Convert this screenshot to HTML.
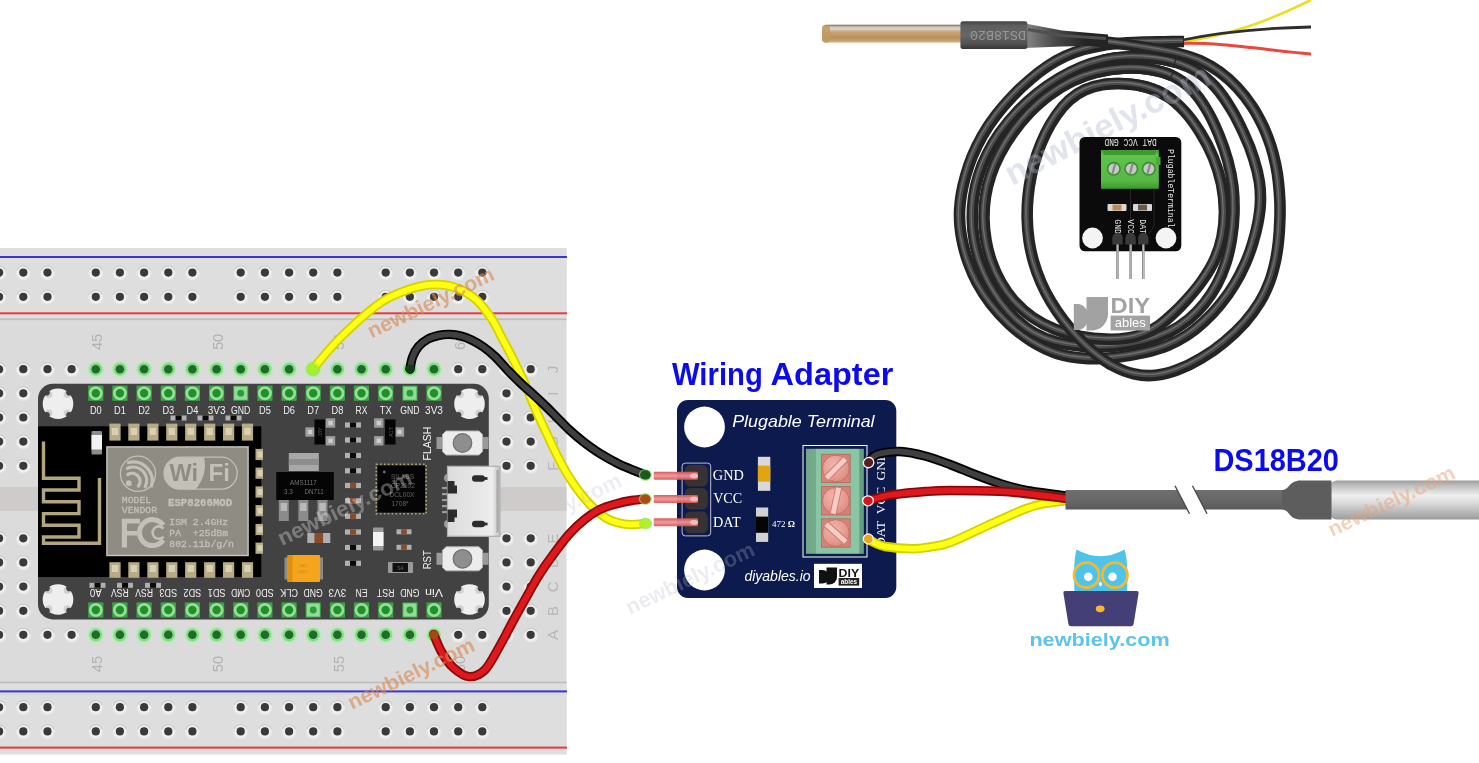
<!DOCTYPE html>
<html lang="en"><head><meta charset="utf-8"><title>ESP8266 NodeMCU DS18B20 wiring diagram</title>
<style>
html,body{margin:0;padding:0;background:#fff;}
body{width:1479px;height:763px;overflow:hidden;font-family:"Liberation Sans",sans-serif;}
svg{display:block;font-family:"Liberation Sans",sans-serif;will-change:transform;}
.serif{font-family:"Liberation Serif",serif;}
.mono{font-family:"Liberation Mono","DejaVu Sans Mono",monospace;}
</style></head><body>
<svg width="1479" height="763" viewBox="0 0 1479 763">
<defs>
<radialGradient id="hg" cx="50%" cy="50%" r="50%"><stop offset="0" stop-color="#f6f6f6"/><stop offset=".72" stop-color="#efefef"/><stop offset=".9" stop-color="#e6e6e6" stop-opacity=".8"/><stop offset="1" stop-color="#dcdcdc" stop-opacity="0"/></radialGradient>
<linearGradient id="usb" x1="0" y1="0" x2="1" y2="0"><stop offset="0" stop-color="#dcdcdc"/><stop offset=".85" stop-color="#ededed"/><stop offset="1" stop-color="#bdbdbd"/></linearGradient>
<linearGradient id="rod" x1="0" y1="0" x2="0" y2="1"><stop offset="0" stop-color="#6b5a45"/><stop offset=".09" stop-color="#c2b6a2"/><stop offset=".22" stop-color="#dcd7ce"/><stop offset=".4" stop-color="#c9a573"/><stop offset=".72" stop-color="#b98f5c"/><stop offset=".9" stop-color="#c8a473"/><stop offset="1" stop-color="#dcc6a6"/></linearGradient>
<linearGradient id="shr" x1="0" y1="0" x2="0" y2="1"><stop offset="0" stop-color="#424242"/><stop offset=".16" stop-color="#5e5e5e"/><stop offset=".5" stop-color="#676767"/><stop offset=".82" stop-color="#505050"/><stop offset="1" stop-color="#363636"/></linearGradient>
<linearGradient id="gtb" x1="0" y1="0" x2="0" y2="1"><stop offset="0" stop-color="#3f9a30"/><stop offset=".12" stop-color="#5fc24a"/><stop offset=".8" stop-color="#57b944"/><stop offset="1" stop-color="#3d952e"/></linearGradient>
<linearGradient id="tap" gradientUnits="userSpaceOnUse" x1="1027" y1="0" x2="1085" y2="0"><stop offset="0" stop-color="#848484"/><stop offset=".45" stop-color="#4c4c4c"/><stop offset="1" stop-color="#242424"/></linearGradient>
<linearGradient id="pin" x1="0" y1="0" x2="0" y2="1"><stop offset="0" stop-color="#d55557"/><stop offset=".5" stop-color="#ee9897"/><stop offset="1" stop-color="#d55557"/></linearGradient>
<radialGradient id="pinend" cx="50%" cy="50%" r="50%"><stop offset="0" stop-color="#f7b4b4"/><stop offset=".6" stop-color="#e26668" stop-opacity=".9"/><stop offset="1" stop-color="#c23a3c" stop-opacity="0"/></radialGradient>
<linearGradient id="tb" x1="0" y1="0" x2="1" y2="0"><stop offset="0" stop-color="#6fa688"/><stop offset=".17" stop-color="#74ad8e"/><stop offset=".18" stop-color="#8ac5a4"/><stop offset=".92" stop-color="#8ac5a4"/><stop offset=".93" stop-color="#5f9a7c"/><stop offset="1" stop-color="#6aa588"/></linearGradient>
<radialGradient id="scr" cx="40%" cy="35%" r="75%"><stop offset="0" stop-color="#f2b4ab"/><stop offset=".6" stop-color="#e79b91"/><stop offset="1" stop-color="#db867b"/></radialGradient>

<linearGradient id="metal" x1="0" y1="0" x2="0" y2="1"><stop offset="0" stop-color="#9c9c9c"/><stop offset=".12" stop-color="#bdbdbd"/><stop offset=".38" stop-color="#efefef"/><stop offset=".55" stop-color="#dedede"/><stop offset=".85" stop-color="#b2b2b2"/><stop offset="1" stop-color="#9a9a9a"/></linearGradient>
<linearGradient id="cab" x1="0" y1="0" x2="0" y2="1"><stop offset="0" stop-color="#6e6e6e"/><stop offset=".6" stop-color="#666"/><stop offset="1" stop-color="#5a5a5a"/></linearGradient>

</defs>
<rect width="1479" height="763" fill="#ffffff"/>
<g id="breadboard">
<rect x="-5" y="248.3" width="571.5" height="506" fill="#dbdbdb"/>
<rect x="-5" y="248.3" width="571.5" height="71" fill="#dedede"/>
<rect x="-5" y="682.5" width="571.5" height="71.8" fill="#dedede"/>
<rect x="-5" y="487" width="571.5" height="24" fill="#cfcbca"/>
<rect x="-5" y="318.5" width="571.5" height="1.6" fill="#bcbcbc"/>
<rect x="-5" y="681.7" width="571.5" height="1.6" fill="#bcbcbc"/>
<rect x="-5" y="256" width="572" height="2" fill="#3636d6"/>
<rect x="-5" y="690.4" width="572" height="2" fill="#3636d6"/>
<rect x="-5" y="312.3" width="572" height="2" fill="#e63b3b"/>
<rect x="-5" y="746.6" width="572" height="2" fill="#e63b3b"/>
<circle cx="-0.9" cy="273.0" r="8" fill="url(#hg)"/><path d="M-7.2,270.4 A6.7,6.7 0 0 1 5.4,270.4" fill="none" stroke="#c6c6c6" stroke-width="1.1" opacity=".8"/><circle cx="-0.9" cy="272.6" r="4.1" fill="#3a3a3a"/>
<circle cx="-0.9" cy="297.2" r="8" fill="url(#hg)"/><path d="M-7.2,294.6 A6.7,6.7 0 0 1 5.4,294.6" fill="none" stroke="#c6c6c6" stroke-width="1.1" opacity=".8"/><circle cx="-0.9" cy="296.8" r="4.1" fill="#3a3a3a"/>
<circle cx="-0.9" cy="707.6" r="8" fill="url(#hg)"/><path d="M-7.2,705.0 A6.7,6.7 0 0 1 5.4,705.0" fill="none" stroke="#c6c6c6" stroke-width="1.1" opacity=".8"/><circle cx="-0.9" cy="707.2" r="4.1" fill="#3a3a3a"/>
<circle cx="-0.9" cy="731.8" r="8" fill="url(#hg)"/><path d="M-7.2,729.2 A6.7,6.7 0 0 1 5.4,729.2" fill="none" stroke="#c6c6c6" stroke-width="1.1" opacity=".8"/><circle cx="-0.9" cy="731.4" r="4.1" fill="#3a3a3a"/>
<circle cx="23.3" cy="273.0" r="8" fill="url(#hg)"/><path d="M17.0,270.4 A6.7,6.7 0 0 1 29.6,270.4" fill="none" stroke="#c6c6c6" stroke-width="1.1" opacity=".8"/><circle cx="23.3" cy="272.6" r="4.1" fill="#3a3a3a"/>
<circle cx="23.3" cy="297.2" r="8" fill="url(#hg)"/><path d="M17.0,294.6 A6.7,6.7 0 0 1 29.6,294.6" fill="none" stroke="#c6c6c6" stroke-width="1.1" opacity=".8"/><circle cx="23.3" cy="296.8" r="4.1" fill="#3a3a3a"/>
<circle cx="23.3" cy="707.6" r="8" fill="url(#hg)"/><path d="M17.0,705.0 A6.7,6.7 0 0 1 29.6,705.0" fill="none" stroke="#c6c6c6" stroke-width="1.1" opacity=".8"/><circle cx="23.3" cy="707.2" r="4.1" fill="#3a3a3a"/>
<circle cx="23.3" cy="731.8" r="8" fill="url(#hg)"/><path d="M17.0,729.2 A6.7,6.7 0 0 1 29.6,729.2" fill="none" stroke="#c6c6c6" stroke-width="1.1" opacity=".8"/><circle cx="23.3" cy="731.4" r="4.1" fill="#3a3a3a"/>
<circle cx="47.5" cy="273.0" r="8" fill="url(#hg)"/><path d="M41.2,270.4 A6.7,6.7 0 0 1 53.8,270.4" fill="none" stroke="#c6c6c6" stroke-width="1.1" opacity=".8"/><circle cx="47.5" cy="272.6" r="4.1" fill="#3a3a3a"/>
<circle cx="47.5" cy="297.2" r="8" fill="url(#hg)"/><path d="M41.2,294.6 A6.7,6.7 0 0 1 53.8,294.6" fill="none" stroke="#c6c6c6" stroke-width="1.1" opacity=".8"/><circle cx="47.5" cy="296.8" r="4.1" fill="#3a3a3a"/>
<circle cx="47.5" cy="707.6" r="8" fill="url(#hg)"/><path d="M41.2,705.0 A6.7,6.7 0 0 1 53.8,705.0" fill="none" stroke="#c6c6c6" stroke-width="1.1" opacity=".8"/><circle cx="47.5" cy="707.2" r="4.1" fill="#3a3a3a"/>
<circle cx="47.5" cy="731.8" r="8" fill="url(#hg)"/><path d="M41.2,729.2 A6.7,6.7 0 0 1 53.8,729.2" fill="none" stroke="#c6c6c6" stroke-width="1.1" opacity=".8"/><circle cx="47.5" cy="731.4" r="4.1" fill="#3a3a3a"/>
<circle cx="95.8" cy="273.0" r="8" fill="url(#hg)"/><path d="M89.5,270.4 A6.7,6.7 0 0 1 102.1,270.4" fill="none" stroke="#c6c6c6" stroke-width="1.1" opacity=".8"/><circle cx="95.8" cy="272.6" r="4.1" fill="#3a3a3a"/>
<circle cx="95.8" cy="297.2" r="8" fill="url(#hg)"/><path d="M89.5,294.6 A6.7,6.7 0 0 1 102.1,294.6" fill="none" stroke="#c6c6c6" stroke-width="1.1" opacity=".8"/><circle cx="95.8" cy="296.8" r="4.1" fill="#3a3a3a"/>
<circle cx="95.8" cy="707.6" r="8" fill="url(#hg)"/><path d="M89.5,705.0 A6.7,6.7 0 0 1 102.1,705.0" fill="none" stroke="#c6c6c6" stroke-width="1.1" opacity=".8"/><circle cx="95.8" cy="707.2" r="4.1" fill="#3a3a3a"/>
<circle cx="95.8" cy="731.8" r="8" fill="url(#hg)"/><path d="M89.5,729.2 A6.7,6.7 0 0 1 102.1,729.2" fill="none" stroke="#c6c6c6" stroke-width="1.1" opacity=".8"/><circle cx="95.8" cy="731.4" r="4.1" fill="#3a3a3a"/>
<circle cx="119.9" cy="273.0" r="8" fill="url(#hg)"/><path d="M113.6,270.4 A6.7,6.7 0 0 1 126.2,270.4" fill="none" stroke="#c6c6c6" stroke-width="1.1" opacity=".8"/><circle cx="119.9" cy="272.6" r="4.1" fill="#3a3a3a"/>
<circle cx="119.9" cy="297.2" r="8" fill="url(#hg)"/><path d="M113.6,294.6 A6.7,6.7 0 0 1 126.2,294.6" fill="none" stroke="#c6c6c6" stroke-width="1.1" opacity=".8"/><circle cx="119.9" cy="296.8" r="4.1" fill="#3a3a3a"/>
<circle cx="119.9" cy="707.6" r="8" fill="url(#hg)"/><path d="M113.6,705.0 A6.7,6.7 0 0 1 126.2,705.0" fill="none" stroke="#c6c6c6" stroke-width="1.1" opacity=".8"/><circle cx="119.9" cy="707.2" r="4.1" fill="#3a3a3a"/>
<circle cx="119.9" cy="731.8" r="8" fill="url(#hg)"/><path d="M113.6,729.2 A6.7,6.7 0 0 1 126.2,729.2" fill="none" stroke="#c6c6c6" stroke-width="1.1" opacity=".8"/><circle cx="119.9" cy="731.4" r="4.1" fill="#3a3a3a"/>
<circle cx="144.1" cy="273.0" r="8" fill="url(#hg)"/><path d="M137.8,270.4 A6.7,6.7 0 0 1 150.4,270.4" fill="none" stroke="#c6c6c6" stroke-width="1.1" opacity=".8"/><circle cx="144.1" cy="272.6" r="4.1" fill="#3a3a3a"/>
<circle cx="144.1" cy="297.2" r="8" fill="url(#hg)"/><path d="M137.8,294.6 A6.7,6.7 0 0 1 150.4,294.6" fill="none" stroke="#c6c6c6" stroke-width="1.1" opacity=".8"/><circle cx="144.1" cy="296.8" r="4.1" fill="#3a3a3a"/>
<circle cx="144.1" cy="707.6" r="8" fill="url(#hg)"/><path d="M137.8,705.0 A6.7,6.7 0 0 1 150.4,705.0" fill="none" stroke="#c6c6c6" stroke-width="1.1" opacity=".8"/><circle cx="144.1" cy="707.2" r="4.1" fill="#3a3a3a"/>
<circle cx="144.1" cy="731.8" r="8" fill="url(#hg)"/><path d="M137.8,729.2 A6.7,6.7 0 0 1 150.4,729.2" fill="none" stroke="#c6c6c6" stroke-width="1.1" opacity=".8"/><circle cx="144.1" cy="731.4" r="4.1" fill="#3a3a3a"/>
<circle cx="168.3" cy="273.0" r="8" fill="url(#hg)"/><path d="M162.0,270.4 A6.7,6.7 0 0 1 174.6,270.4" fill="none" stroke="#c6c6c6" stroke-width="1.1" opacity=".8"/><circle cx="168.3" cy="272.6" r="4.1" fill="#3a3a3a"/>
<circle cx="168.3" cy="297.2" r="8" fill="url(#hg)"/><path d="M162.0,294.6 A6.7,6.7 0 0 1 174.6,294.6" fill="none" stroke="#c6c6c6" stroke-width="1.1" opacity=".8"/><circle cx="168.3" cy="296.8" r="4.1" fill="#3a3a3a"/>
<circle cx="168.3" cy="707.6" r="8" fill="url(#hg)"/><path d="M162.0,705.0 A6.7,6.7 0 0 1 174.6,705.0" fill="none" stroke="#c6c6c6" stroke-width="1.1" opacity=".8"/><circle cx="168.3" cy="707.2" r="4.1" fill="#3a3a3a"/>
<circle cx="168.3" cy="731.8" r="8" fill="url(#hg)"/><path d="M162.0,729.2 A6.7,6.7 0 0 1 174.6,729.2" fill="none" stroke="#c6c6c6" stroke-width="1.1" opacity=".8"/><circle cx="168.3" cy="731.4" r="4.1" fill="#3a3a3a"/>
<circle cx="192.4" cy="273.0" r="8" fill="url(#hg)"/><path d="M186.1,270.4 A6.7,6.7 0 0 1 198.7,270.4" fill="none" stroke="#c6c6c6" stroke-width="1.1" opacity=".8"/><circle cx="192.4" cy="272.6" r="4.1" fill="#3a3a3a"/>
<circle cx="192.4" cy="297.2" r="8" fill="url(#hg)"/><path d="M186.1,294.6 A6.7,6.7 0 0 1 198.7,294.6" fill="none" stroke="#c6c6c6" stroke-width="1.1" opacity=".8"/><circle cx="192.4" cy="296.8" r="4.1" fill="#3a3a3a"/>
<circle cx="192.4" cy="707.6" r="8" fill="url(#hg)"/><path d="M186.1,705.0 A6.7,6.7 0 0 1 198.7,705.0" fill="none" stroke="#c6c6c6" stroke-width="1.1" opacity=".8"/><circle cx="192.4" cy="707.2" r="4.1" fill="#3a3a3a"/>
<circle cx="192.4" cy="731.8" r="8" fill="url(#hg)"/><path d="M186.1,729.2 A6.7,6.7 0 0 1 198.7,729.2" fill="none" stroke="#c6c6c6" stroke-width="1.1" opacity=".8"/><circle cx="192.4" cy="731.4" r="4.1" fill="#3a3a3a"/>
<circle cx="240.7" cy="273.0" r="8" fill="url(#hg)"/><path d="M234.4,270.4 A6.7,6.7 0 0 1 247.0,270.4" fill="none" stroke="#c6c6c6" stroke-width="1.1" opacity=".8"/><circle cx="240.7" cy="272.6" r="4.1" fill="#3a3a3a"/>
<circle cx="240.7" cy="297.2" r="8" fill="url(#hg)"/><path d="M234.4,294.6 A6.7,6.7 0 0 1 247.0,294.6" fill="none" stroke="#c6c6c6" stroke-width="1.1" opacity=".8"/><circle cx="240.7" cy="296.8" r="4.1" fill="#3a3a3a"/>
<circle cx="240.7" cy="707.6" r="8" fill="url(#hg)"/><path d="M234.4,705.0 A6.7,6.7 0 0 1 247.0,705.0" fill="none" stroke="#c6c6c6" stroke-width="1.1" opacity=".8"/><circle cx="240.7" cy="707.2" r="4.1" fill="#3a3a3a"/>
<circle cx="240.7" cy="731.8" r="8" fill="url(#hg)"/><path d="M234.4,729.2 A6.7,6.7 0 0 1 247.0,729.2" fill="none" stroke="#c6c6c6" stroke-width="1.1" opacity=".8"/><circle cx="240.7" cy="731.4" r="4.1" fill="#3a3a3a"/>
<circle cx="264.9" cy="273.0" r="8" fill="url(#hg)"/><path d="M258.6,270.4 A6.7,6.7 0 0 1 271.2,270.4" fill="none" stroke="#c6c6c6" stroke-width="1.1" opacity=".8"/><circle cx="264.9" cy="272.6" r="4.1" fill="#3a3a3a"/>
<circle cx="264.9" cy="297.2" r="8" fill="url(#hg)"/><path d="M258.6,294.6 A6.7,6.7 0 0 1 271.2,294.6" fill="none" stroke="#c6c6c6" stroke-width="1.1" opacity=".8"/><circle cx="264.9" cy="296.8" r="4.1" fill="#3a3a3a"/>
<circle cx="264.9" cy="707.6" r="8" fill="url(#hg)"/><path d="M258.6,705.0 A6.7,6.7 0 0 1 271.2,705.0" fill="none" stroke="#c6c6c6" stroke-width="1.1" opacity=".8"/><circle cx="264.9" cy="707.2" r="4.1" fill="#3a3a3a"/>
<circle cx="264.9" cy="731.8" r="8" fill="url(#hg)"/><path d="M258.6,729.2 A6.7,6.7 0 0 1 271.2,729.2" fill="none" stroke="#c6c6c6" stroke-width="1.1" opacity=".8"/><circle cx="264.9" cy="731.4" r="4.1" fill="#3a3a3a"/>
<circle cx="289.1" cy="273.0" r="8" fill="url(#hg)"/><path d="M282.8,270.4 A6.7,6.7 0 0 1 295.4,270.4" fill="none" stroke="#c6c6c6" stroke-width="1.1" opacity=".8"/><circle cx="289.1" cy="272.6" r="4.1" fill="#3a3a3a"/>
<circle cx="289.1" cy="297.2" r="8" fill="url(#hg)"/><path d="M282.8,294.6 A6.7,6.7 0 0 1 295.4,294.6" fill="none" stroke="#c6c6c6" stroke-width="1.1" opacity=".8"/><circle cx="289.1" cy="296.8" r="4.1" fill="#3a3a3a"/>
<circle cx="289.1" cy="707.6" r="8" fill="url(#hg)"/><path d="M282.8,705.0 A6.7,6.7 0 0 1 295.4,705.0" fill="none" stroke="#c6c6c6" stroke-width="1.1" opacity=".8"/><circle cx="289.1" cy="707.2" r="4.1" fill="#3a3a3a"/>
<circle cx="289.1" cy="731.8" r="8" fill="url(#hg)"/><path d="M282.8,729.2 A6.7,6.7 0 0 1 295.4,729.2" fill="none" stroke="#c6c6c6" stroke-width="1.1" opacity=".8"/><circle cx="289.1" cy="731.4" r="4.1" fill="#3a3a3a"/>
<circle cx="313.2" cy="273.0" r="8" fill="url(#hg)"/><path d="M306.9,270.4 A6.7,6.7 0 0 1 319.5,270.4" fill="none" stroke="#c6c6c6" stroke-width="1.1" opacity=".8"/><circle cx="313.2" cy="272.6" r="4.1" fill="#3a3a3a"/>
<circle cx="313.2" cy="297.2" r="8" fill="url(#hg)"/><path d="M306.9,294.6 A6.7,6.7 0 0 1 319.5,294.6" fill="none" stroke="#c6c6c6" stroke-width="1.1" opacity=".8"/><circle cx="313.2" cy="296.8" r="4.1" fill="#3a3a3a"/>
<circle cx="313.2" cy="707.6" r="8" fill="url(#hg)"/><path d="M306.9,705.0 A6.7,6.7 0 0 1 319.5,705.0" fill="none" stroke="#c6c6c6" stroke-width="1.1" opacity=".8"/><circle cx="313.2" cy="707.2" r="4.1" fill="#3a3a3a"/>
<circle cx="313.2" cy="731.8" r="8" fill="url(#hg)"/><path d="M306.9,729.2 A6.7,6.7 0 0 1 319.5,729.2" fill="none" stroke="#c6c6c6" stroke-width="1.1" opacity=".8"/><circle cx="313.2" cy="731.4" r="4.1" fill="#3a3a3a"/>
<circle cx="337.4" cy="273.0" r="8" fill="url(#hg)"/><path d="M331.1,270.4 A6.7,6.7 0 0 1 343.7,270.4" fill="none" stroke="#c6c6c6" stroke-width="1.1" opacity=".8"/><circle cx="337.4" cy="272.6" r="4.1" fill="#3a3a3a"/>
<circle cx="337.4" cy="297.2" r="8" fill="url(#hg)"/><path d="M331.1,294.6 A6.7,6.7 0 0 1 343.7,294.6" fill="none" stroke="#c6c6c6" stroke-width="1.1" opacity=".8"/><circle cx="337.4" cy="296.8" r="4.1" fill="#3a3a3a"/>
<circle cx="337.4" cy="707.6" r="8" fill="url(#hg)"/><path d="M331.1,705.0 A6.7,6.7 0 0 1 343.7,705.0" fill="none" stroke="#c6c6c6" stroke-width="1.1" opacity=".8"/><circle cx="337.4" cy="707.2" r="4.1" fill="#3a3a3a"/>
<circle cx="337.4" cy="731.8" r="8" fill="url(#hg)"/><path d="M331.1,729.2 A6.7,6.7 0 0 1 343.7,729.2" fill="none" stroke="#c6c6c6" stroke-width="1.1" opacity=".8"/><circle cx="337.4" cy="731.4" r="4.1" fill="#3a3a3a"/>
<circle cx="385.7" cy="273.0" r="8" fill="url(#hg)"/><path d="M379.4,270.4 A6.7,6.7 0 0 1 392.0,270.4" fill="none" stroke="#c6c6c6" stroke-width="1.1" opacity=".8"/><circle cx="385.7" cy="272.6" r="4.1" fill="#3a3a3a"/>
<circle cx="385.7" cy="297.2" r="8" fill="url(#hg)"/><path d="M379.4,294.6 A6.7,6.7 0 0 1 392.0,294.6" fill="none" stroke="#c6c6c6" stroke-width="1.1" opacity=".8"/><circle cx="385.7" cy="296.8" r="4.1" fill="#3a3a3a"/>
<circle cx="385.7" cy="707.6" r="8" fill="url(#hg)"/><path d="M379.4,705.0 A6.7,6.7 0 0 1 392.0,705.0" fill="none" stroke="#c6c6c6" stroke-width="1.1" opacity=".8"/><circle cx="385.7" cy="707.2" r="4.1" fill="#3a3a3a"/>
<circle cx="385.7" cy="731.8" r="8" fill="url(#hg)"/><path d="M379.4,729.2 A6.7,6.7 0 0 1 392.0,729.2" fill="none" stroke="#c6c6c6" stroke-width="1.1" opacity=".8"/><circle cx="385.7" cy="731.4" r="4.1" fill="#3a3a3a"/>
<circle cx="409.9" cy="273.0" r="8" fill="url(#hg)"/><path d="M403.6,270.4 A6.7,6.7 0 0 1 416.2,270.4" fill="none" stroke="#c6c6c6" stroke-width="1.1" opacity=".8"/><circle cx="409.9" cy="272.6" r="4.1" fill="#3a3a3a"/>
<circle cx="409.9" cy="297.2" r="8" fill="url(#hg)"/><path d="M403.6,294.6 A6.7,6.7 0 0 1 416.2,294.6" fill="none" stroke="#c6c6c6" stroke-width="1.1" opacity=".8"/><circle cx="409.9" cy="296.8" r="4.1" fill="#3a3a3a"/>
<circle cx="409.9" cy="707.6" r="8" fill="url(#hg)"/><path d="M403.6,705.0 A6.7,6.7 0 0 1 416.2,705.0" fill="none" stroke="#c6c6c6" stroke-width="1.1" opacity=".8"/><circle cx="409.9" cy="707.2" r="4.1" fill="#3a3a3a"/>
<circle cx="409.9" cy="731.8" r="8" fill="url(#hg)"/><path d="M403.6,729.2 A6.7,6.7 0 0 1 416.2,729.2" fill="none" stroke="#c6c6c6" stroke-width="1.1" opacity=".8"/><circle cx="409.9" cy="731.4" r="4.1" fill="#3a3a3a"/>
<circle cx="434.0" cy="273.0" r="8" fill="url(#hg)"/><path d="M427.7,270.4 A6.7,6.7 0 0 1 440.3,270.4" fill="none" stroke="#c6c6c6" stroke-width="1.1" opacity=".8"/><circle cx="434.0" cy="272.6" r="4.1" fill="#3a3a3a"/>
<circle cx="434.0" cy="297.2" r="8" fill="url(#hg)"/><path d="M427.7,294.6 A6.7,6.7 0 0 1 440.3,294.6" fill="none" stroke="#c6c6c6" stroke-width="1.1" opacity=".8"/><circle cx="434.0" cy="296.8" r="4.1" fill="#3a3a3a"/>
<circle cx="434.0" cy="707.6" r="8" fill="url(#hg)"/><path d="M427.7,705.0 A6.7,6.7 0 0 1 440.3,705.0" fill="none" stroke="#c6c6c6" stroke-width="1.1" opacity=".8"/><circle cx="434.0" cy="707.2" r="4.1" fill="#3a3a3a"/>
<circle cx="434.0" cy="731.8" r="8" fill="url(#hg)"/><path d="M427.7,729.2 A6.7,6.7 0 0 1 440.3,729.2" fill="none" stroke="#c6c6c6" stroke-width="1.1" opacity=".8"/><circle cx="434.0" cy="731.4" r="4.1" fill="#3a3a3a"/>
<circle cx="458.2" cy="273.0" r="8" fill="url(#hg)"/><path d="M451.9,270.4 A6.7,6.7 0 0 1 464.5,270.4" fill="none" stroke="#c6c6c6" stroke-width="1.1" opacity=".8"/><circle cx="458.2" cy="272.6" r="4.1" fill="#3a3a3a"/>
<circle cx="458.2" cy="297.2" r="8" fill="url(#hg)"/><path d="M451.9,294.6 A6.7,6.7 0 0 1 464.5,294.6" fill="none" stroke="#c6c6c6" stroke-width="1.1" opacity=".8"/><circle cx="458.2" cy="296.8" r="4.1" fill="#3a3a3a"/>
<circle cx="458.2" cy="707.6" r="8" fill="url(#hg)"/><path d="M451.9,705.0 A6.7,6.7 0 0 1 464.5,705.0" fill="none" stroke="#c6c6c6" stroke-width="1.1" opacity=".8"/><circle cx="458.2" cy="707.2" r="4.1" fill="#3a3a3a"/>
<circle cx="458.2" cy="731.8" r="8" fill="url(#hg)"/><path d="M451.9,729.2 A6.7,6.7 0 0 1 464.5,729.2" fill="none" stroke="#c6c6c6" stroke-width="1.1" opacity=".8"/><circle cx="458.2" cy="731.4" r="4.1" fill="#3a3a3a"/>
<circle cx="482.3" cy="273.0" r="8" fill="url(#hg)"/><path d="M476.0,270.4 A6.7,6.7 0 0 1 488.6,270.4" fill="none" stroke="#c6c6c6" stroke-width="1.1" opacity=".8"/><circle cx="482.3" cy="272.6" r="4.1" fill="#3a3a3a"/>
<circle cx="482.3" cy="297.2" r="8" fill="url(#hg)"/><path d="M476.0,294.6 A6.7,6.7 0 0 1 488.6,294.6" fill="none" stroke="#c6c6c6" stroke-width="1.1" opacity=".8"/><circle cx="482.3" cy="296.8" r="4.1" fill="#3a3a3a"/>
<circle cx="482.3" cy="707.6" r="8" fill="url(#hg)"/><path d="M476.0,705.0 A6.7,6.7 0 0 1 488.6,705.0" fill="none" stroke="#c6c6c6" stroke-width="1.1" opacity=".8"/><circle cx="482.3" cy="707.2" r="4.1" fill="#3a3a3a"/>
<circle cx="482.3" cy="731.8" r="8" fill="url(#hg)"/><path d="M476.0,729.2 A6.7,6.7 0 0 1 488.6,729.2" fill="none" stroke="#c6c6c6" stroke-width="1.1" opacity=".8"/><circle cx="482.3" cy="731.4" r="4.1" fill="#3a3a3a"/>
<circle cx="-0.9" cy="369.6" r="8" fill="url(#hg)"/><path d="M-7.2,367.0 A6.7,6.7 0 0 1 5.4,367.0" fill="none" stroke="#c6c6c6" stroke-width="1.1" opacity=".8"/><circle cx="-0.9" cy="369.2" r="4.1" fill="#3a3a3a"/>
<circle cx="-0.9" cy="393.7" r="8" fill="url(#hg)"/><path d="M-7.2,391.1 A6.7,6.7 0 0 1 5.4,391.1" fill="none" stroke="#c6c6c6" stroke-width="1.1" opacity=".8"/><circle cx="-0.9" cy="393.3" r="4.1" fill="#3a3a3a"/>
<circle cx="-0.9" cy="417.9" r="8" fill="url(#hg)"/><path d="M-7.2,415.3 A6.7,6.7 0 0 1 5.4,415.3" fill="none" stroke="#c6c6c6" stroke-width="1.1" opacity=".8"/><circle cx="-0.9" cy="417.5" r="4.1" fill="#3a3a3a"/>
<circle cx="-0.9" cy="442.0" r="8" fill="url(#hg)"/><path d="M-7.2,439.4 A6.7,6.7 0 0 1 5.4,439.4" fill="none" stroke="#c6c6c6" stroke-width="1.1" opacity=".8"/><circle cx="-0.9" cy="441.6" r="4.1" fill="#3a3a3a"/>
<circle cx="-0.9" cy="466.2" r="8" fill="url(#hg)"/><path d="M-7.2,463.6 A6.7,6.7 0 0 1 5.4,463.6" fill="none" stroke="#c6c6c6" stroke-width="1.1" opacity=".8"/><circle cx="-0.9" cy="465.8" r="4.1" fill="#3a3a3a"/>
<circle cx="-0.9" cy="538.7" r="8" fill="url(#hg)"/><path d="M-7.2,536.1 A6.7,6.7 0 0 1 5.4,536.1" fill="none" stroke="#c6c6c6" stroke-width="1.1" opacity=".8"/><circle cx="-0.9" cy="538.3" r="4.1" fill="#3a3a3a"/>
<circle cx="-0.9" cy="562.8" r="8" fill="url(#hg)"/><path d="M-7.2,560.2 A6.7,6.7 0 0 1 5.4,560.2" fill="none" stroke="#c6c6c6" stroke-width="1.1" opacity=".8"/><circle cx="-0.9" cy="562.4" r="4.1" fill="#3a3a3a"/>
<circle cx="-0.9" cy="587.0" r="8" fill="url(#hg)"/><path d="M-7.2,584.4 A6.7,6.7 0 0 1 5.4,584.4" fill="none" stroke="#c6c6c6" stroke-width="1.1" opacity=".8"/><circle cx="-0.9" cy="586.6" r="4.1" fill="#3a3a3a"/>
<circle cx="-0.9" cy="611.2" r="8" fill="url(#hg)"/><path d="M-7.2,608.6 A6.7,6.7 0 0 1 5.4,608.6" fill="none" stroke="#c6c6c6" stroke-width="1.1" opacity=".8"/><circle cx="-0.9" cy="610.8" r="4.1" fill="#3a3a3a"/>
<circle cx="-0.9" cy="635.2" r="8" fill="url(#hg)"/><path d="M-7.2,632.6 A6.7,6.7 0 0 1 5.4,632.6" fill="none" stroke="#c6c6c6" stroke-width="1.1" opacity=".8"/><circle cx="-0.9" cy="634.8" r="4.1" fill="#3a3a3a"/>
<circle cx="23.3" cy="369.6" r="8" fill="url(#hg)"/><path d="M17.0,367.0 A6.7,6.7 0 0 1 29.6,367.0" fill="none" stroke="#c6c6c6" stroke-width="1.1" opacity=".8"/><circle cx="23.3" cy="369.2" r="4.1" fill="#3a3a3a"/>
<circle cx="23.3" cy="393.7" r="8" fill="url(#hg)"/><path d="M17.0,391.1 A6.7,6.7 0 0 1 29.6,391.1" fill="none" stroke="#c6c6c6" stroke-width="1.1" opacity=".8"/><circle cx="23.3" cy="393.3" r="4.1" fill="#3a3a3a"/>
<circle cx="23.3" cy="417.9" r="8" fill="url(#hg)"/><path d="M17.0,415.3 A6.7,6.7 0 0 1 29.6,415.3" fill="none" stroke="#c6c6c6" stroke-width="1.1" opacity=".8"/><circle cx="23.3" cy="417.5" r="4.1" fill="#3a3a3a"/>
<circle cx="23.3" cy="442.0" r="8" fill="url(#hg)"/><path d="M17.0,439.4 A6.7,6.7 0 0 1 29.6,439.4" fill="none" stroke="#c6c6c6" stroke-width="1.1" opacity=".8"/><circle cx="23.3" cy="441.6" r="4.1" fill="#3a3a3a"/>
<circle cx="23.3" cy="466.2" r="8" fill="url(#hg)"/><path d="M17.0,463.6 A6.7,6.7 0 0 1 29.6,463.6" fill="none" stroke="#c6c6c6" stroke-width="1.1" opacity=".8"/><circle cx="23.3" cy="465.8" r="4.1" fill="#3a3a3a"/>
<circle cx="23.3" cy="538.7" r="8" fill="url(#hg)"/><path d="M17.0,536.1 A6.7,6.7 0 0 1 29.6,536.1" fill="none" stroke="#c6c6c6" stroke-width="1.1" opacity=".8"/><circle cx="23.3" cy="538.3" r="4.1" fill="#3a3a3a"/>
<circle cx="23.3" cy="562.8" r="8" fill="url(#hg)"/><path d="M17.0,560.2 A6.7,6.7 0 0 1 29.6,560.2" fill="none" stroke="#c6c6c6" stroke-width="1.1" opacity=".8"/><circle cx="23.3" cy="562.4" r="4.1" fill="#3a3a3a"/>
<circle cx="23.3" cy="587.0" r="8" fill="url(#hg)"/><path d="M17.0,584.4 A6.7,6.7 0 0 1 29.6,584.4" fill="none" stroke="#c6c6c6" stroke-width="1.1" opacity=".8"/><circle cx="23.3" cy="586.6" r="4.1" fill="#3a3a3a"/>
<circle cx="23.3" cy="611.2" r="8" fill="url(#hg)"/><path d="M17.0,608.6 A6.7,6.7 0 0 1 29.6,608.6" fill="none" stroke="#c6c6c6" stroke-width="1.1" opacity=".8"/><circle cx="23.3" cy="610.8" r="4.1" fill="#3a3a3a"/>
<circle cx="23.3" cy="635.2" r="8" fill="url(#hg)"/><path d="M17.0,632.6 A6.7,6.7 0 0 1 29.6,632.6" fill="none" stroke="#c6c6c6" stroke-width="1.1" opacity=".8"/><circle cx="23.3" cy="634.8" r="4.1" fill="#3a3a3a"/>
<circle cx="47.5" cy="369.6" r="8" fill="url(#hg)"/><path d="M41.2,367.0 A6.7,6.7 0 0 1 53.8,367.0" fill="none" stroke="#c6c6c6" stroke-width="1.1" opacity=".8"/><circle cx="47.5" cy="369.2" r="4.1" fill="#3a3a3a"/>
<circle cx="47.5" cy="635.2" r="8" fill="url(#hg)"/><path d="M41.2,632.6 A6.7,6.7 0 0 1 53.8,632.6" fill="none" stroke="#c6c6c6" stroke-width="1.1" opacity=".8"/><circle cx="47.5" cy="634.8" r="4.1" fill="#3a3a3a"/>
<circle cx="71.6" cy="369.6" r="8" fill="url(#hg)"/><path d="M65.3,367.0 A6.7,6.7 0 0 1 77.9,367.0" fill="none" stroke="#c6c6c6" stroke-width="1.1" opacity=".8"/><circle cx="71.6" cy="369.2" r="4.1" fill="#3a3a3a"/>
<circle cx="71.6" cy="635.2" r="8" fill="url(#hg)"/><path d="M65.3,632.6 A6.7,6.7 0 0 1 77.9,632.6" fill="none" stroke="#c6c6c6" stroke-width="1.1" opacity=".8"/><circle cx="71.6" cy="634.8" r="4.1" fill="#3a3a3a"/>
<circle cx="95.8" cy="369.2" r="8.4" fill="#b4eeb4" opacity=".8"/><circle cx="95.8" cy="369.2" r="6.6" fill="#86dc86"/><circle cx="95.8" cy="369.2" r="4.3" fill="#1f6b2a"/>
<circle cx="95.8" cy="634.8" r="8.4" fill="#b4eeb4" opacity=".8"/><circle cx="95.8" cy="634.8" r="6.6" fill="#86dc86"/><circle cx="95.8" cy="634.8" r="4.3" fill="#1f6b2a"/>
<circle cx="119.9" cy="369.2" r="8.4" fill="#b4eeb4" opacity=".8"/><circle cx="119.9" cy="369.2" r="6.6" fill="#86dc86"/><circle cx="119.9" cy="369.2" r="4.3" fill="#1f6b2a"/>
<circle cx="119.9" cy="634.8" r="8.4" fill="#b4eeb4" opacity=".8"/><circle cx="119.9" cy="634.8" r="6.6" fill="#86dc86"/><circle cx="119.9" cy="634.8" r="4.3" fill="#1f6b2a"/>
<circle cx="144.1" cy="369.2" r="8.4" fill="#b4eeb4" opacity=".8"/><circle cx="144.1" cy="369.2" r="6.6" fill="#86dc86"/><circle cx="144.1" cy="369.2" r="4.3" fill="#1f6b2a"/>
<circle cx="144.1" cy="634.8" r="8.4" fill="#b4eeb4" opacity=".8"/><circle cx="144.1" cy="634.8" r="6.6" fill="#86dc86"/><circle cx="144.1" cy="634.8" r="4.3" fill="#1f6b2a"/>
<circle cx="168.3" cy="369.2" r="8.4" fill="#b4eeb4" opacity=".8"/><circle cx="168.3" cy="369.2" r="6.6" fill="#86dc86"/><circle cx="168.3" cy="369.2" r="4.3" fill="#1f6b2a"/>
<circle cx="168.3" cy="634.8" r="8.4" fill="#b4eeb4" opacity=".8"/><circle cx="168.3" cy="634.8" r="6.6" fill="#86dc86"/><circle cx="168.3" cy="634.8" r="4.3" fill="#1f6b2a"/>
<circle cx="192.4" cy="369.2" r="8.4" fill="#b4eeb4" opacity=".8"/><circle cx="192.4" cy="369.2" r="6.6" fill="#86dc86"/><circle cx="192.4" cy="369.2" r="4.3" fill="#1f6b2a"/>
<circle cx="192.4" cy="634.8" r="8.4" fill="#b4eeb4" opacity=".8"/><circle cx="192.4" cy="634.8" r="6.6" fill="#86dc86"/><circle cx="192.4" cy="634.8" r="4.3" fill="#1f6b2a"/>
<circle cx="216.6" cy="369.2" r="8.4" fill="#b4eeb4" opacity=".8"/><circle cx="216.6" cy="369.2" r="6.6" fill="#86dc86"/><circle cx="216.6" cy="369.2" r="4.3" fill="#1f6b2a"/>
<circle cx="216.6" cy="634.8" r="8.4" fill="#b4eeb4" opacity=".8"/><circle cx="216.6" cy="634.8" r="6.6" fill="#86dc86"/><circle cx="216.6" cy="634.8" r="4.3" fill="#1f6b2a"/>
<circle cx="240.7" cy="369.2" r="8.4" fill="#b4eeb4" opacity=".8"/><circle cx="240.7" cy="369.2" r="6.6" fill="#86dc86"/><circle cx="240.7" cy="369.2" r="4.3" fill="#1f6b2a"/>
<circle cx="240.7" cy="634.8" r="8.4" fill="#b4eeb4" opacity=".8"/><circle cx="240.7" cy="634.8" r="6.6" fill="#86dc86"/><circle cx="240.7" cy="634.8" r="4.3" fill="#1f6b2a"/>
<circle cx="264.9" cy="369.2" r="8.4" fill="#b4eeb4" opacity=".8"/><circle cx="264.9" cy="369.2" r="6.6" fill="#86dc86"/><circle cx="264.9" cy="369.2" r="4.3" fill="#1f6b2a"/>
<circle cx="264.9" cy="634.8" r="8.4" fill="#b4eeb4" opacity=".8"/><circle cx="264.9" cy="634.8" r="6.6" fill="#86dc86"/><circle cx="264.9" cy="634.8" r="4.3" fill="#1f6b2a"/>
<circle cx="289.1" cy="369.2" r="8.4" fill="#b4eeb4" opacity=".8"/><circle cx="289.1" cy="369.2" r="6.6" fill="#86dc86"/><circle cx="289.1" cy="369.2" r="4.3" fill="#1f6b2a"/>
<circle cx="289.1" cy="634.8" r="8.4" fill="#b4eeb4" opacity=".8"/><circle cx="289.1" cy="634.8" r="6.6" fill="#86dc86"/><circle cx="289.1" cy="634.8" r="4.3" fill="#1f6b2a"/>
<circle cx="313.2" cy="369.2" r="8.4" fill="#b4eeb4" opacity=".8"/><circle cx="313.2" cy="369.2" r="6.6" fill="#86dc86"/><circle cx="313.2" cy="369.2" r="4.3" fill="#1f6b2a"/>
<circle cx="313.2" cy="634.8" r="8.4" fill="#b4eeb4" opacity=".8"/><circle cx="313.2" cy="634.8" r="6.6" fill="#86dc86"/><circle cx="313.2" cy="634.8" r="4.3" fill="#1f6b2a"/>
<circle cx="337.4" cy="369.2" r="8.4" fill="#b4eeb4" opacity=".8"/><circle cx="337.4" cy="369.2" r="6.6" fill="#86dc86"/><circle cx="337.4" cy="369.2" r="4.3" fill="#1f6b2a"/>
<circle cx="337.4" cy="634.8" r="8.4" fill="#b4eeb4" opacity=".8"/><circle cx="337.4" cy="634.8" r="6.6" fill="#86dc86"/><circle cx="337.4" cy="634.8" r="4.3" fill="#1f6b2a"/>
<circle cx="361.5" cy="369.2" r="8.4" fill="#b4eeb4" opacity=".8"/><circle cx="361.5" cy="369.2" r="6.6" fill="#86dc86"/><circle cx="361.5" cy="369.2" r="4.3" fill="#1f6b2a"/>
<circle cx="361.5" cy="634.8" r="8.4" fill="#b4eeb4" opacity=".8"/><circle cx="361.5" cy="634.8" r="6.6" fill="#86dc86"/><circle cx="361.5" cy="634.8" r="4.3" fill="#1f6b2a"/>
<circle cx="385.7" cy="369.2" r="8.4" fill="#b4eeb4" opacity=".8"/><circle cx="385.7" cy="369.2" r="6.6" fill="#86dc86"/><circle cx="385.7" cy="369.2" r="4.3" fill="#1f6b2a"/>
<circle cx="385.7" cy="634.8" r="8.4" fill="#b4eeb4" opacity=".8"/><circle cx="385.7" cy="634.8" r="6.6" fill="#86dc86"/><circle cx="385.7" cy="634.8" r="4.3" fill="#1f6b2a"/>
<circle cx="409.9" cy="369.2" r="8.4" fill="#b4eeb4" opacity=".8"/><circle cx="409.9" cy="369.2" r="6.6" fill="#86dc86"/><circle cx="409.9" cy="369.2" r="4.3" fill="#1f6b2a"/>
<circle cx="409.9" cy="634.8" r="8.4" fill="#b4eeb4" opacity=".8"/><circle cx="409.9" cy="634.8" r="6.6" fill="#86dc86"/><circle cx="409.9" cy="634.8" r="4.3" fill="#1f6b2a"/>
<circle cx="434.0" cy="369.2" r="8.4" fill="#b4eeb4" opacity=".8"/><circle cx="434.0" cy="369.2" r="6.6" fill="#86dc86"/><circle cx="434.0" cy="369.2" r="4.3" fill="#1f6b2a"/>
<circle cx="434.0" cy="634.8" r="8.4" fill="#b4eeb4" opacity=".8"/><circle cx="434.0" cy="634.8" r="6.6" fill="#86dc86"/><circle cx="434.0" cy="634.8" r="4.3" fill="#1f6b2a"/>
<circle cx="458.2" cy="369.6" r="8" fill="url(#hg)"/><path d="M451.9,367.0 A6.7,6.7 0 0 1 464.5,367.0" fill="none" stroke="#c6c6c6" stroke-width="1.1" opacity=".8"/><circle cx="458.2" cy="369.2" r="4.1" fill="#3a3a3a"/>
<circle cx="458.2" cy="635.2" r="8" fill="url(#hg)"/><path d="M451.9,632.6 A6.7,6.7 0 0 1 464.5,632.6" fill="none" stroke="#c6c6c6" stroke-width="1.1" opacity=".8"/><circle cx="458.2" cy="634.8" r="4.1" fill="#3a3a3a"/>
<circle cx="482.3" cy="369.6" r="8" fill="url(#hg)"/><path d="M476.0,367.0 A6.7,6.7 0 0 1 488.6,367.0" fill="none" stroke="#c6c6c6" stroke-width="1.1" opacity=".8"/><circle cx="482.3" cy="369.2" r="4.1" fill="#3a3a3a"/>
<circle cx="482.3" cy="635.2" r="8" fill="url(#hg)"/><path d="M476.0,632.6 A6.7,6.7 0 0 1 488.6,632.6" fill="none" stroke="#c6c6c6" stroke-width="1.1" opacity=".8"/><circle cx="482.3" cy="634.8" r="4.1" fill="#3a3a3a"/>
<circle cx="506.5" cy="369.6" r="8" fill="url(#hg)"/><path d="M500.2,367.0 A6.7,6.7 0 0 1 512.8,367.0" fill="none" stroke="#c6c6c6" stroke-width="1.1" opacity=".8"/><circle cx="506.5" cy="369.2" r="4.1" fill="#3a3a3a"/>
<circle cx="506.5" cy="393.7" r="8" fill="url(#hg)"/><path d="M500.2,391.1 A6.7,6.7 0 0 1 512.8,391.1" fill="none" stroke="#c6c6c6" stroke-width="1.1" opacity=".8"/><circle cx="506.5" cy="393.3" r="4.1" fill="#3a3a3a"/>
<circle cx="506.5" cy="417.9" r="8" fill="url(#hg)"/><path d="M500.2,415.3 A6.7,6.7 0 0 1 512.8,415.3" fill="none" stroke="#c6c6c6" stroke-width="1.1" opacity=".8"/><circle cx="506.5" cy="417.5" r="4.1" fill="#3a3a3a"/>
<circle cx="506.5" cy="442.0" r="8" fill="url(#hg)"/><path d="M500.2,439.4 A6.7,6.7 0 0 1 512.8,439.4" fill="none" stroke="#c6c6c6" stroke-width="1.1" opacity=".8"/><circle cx="506.5" cy="441.6" r="4.1" fill="#3a3a3a"/>
<circle cx="506.5" cy="466.2" r="8" fill="url(#hg)"/><path d="M500.2,463.6 A6.7,6.7 0 0 1 512.8,463.6" fill="none" stroke="#c6c6c6" stroke-width="1.1" opacity=".8"/><circle cx="506.5" cy="465.8" r="4.1" fill="#3a3a3a"/>
<circle cx="506.5" cy="538.7" r="8" fill="url(#hg)"/><path d="M500.2,536.1 A6.7,6.7 0 0 1 512.8,536.1" fill="none" stroke="#c6c6c6" stroke-width="1.1" opacity=".8"/><circle cx="506.5" cy="538.3" r="4.1" fill="#3a3a3a"/>
<circle cx="506.5" cy="562.8" r="8" fill="url(#hg)"/><path d="M500.2,560.2 A6.7,6.7 0 0 1 512.8,560.2" fill="none" stroke="#c6c6c6" stroke-width="1.1" opacity=".8"/><circle cx="506.5" cy="562.4" r="4.1" fill="#3a3a3a"/>
<circle cx="506.5" cy="587.0" r="8" fill="url(#hg)"/><path d="M500.2,584.4 A6.7,6.7 0 0 1 512.8,584.4" fill="none" stroke="#c6c6c6" stroke-width="1.1" opacity=".8"/><circle cx="506.5" cy="586.6" r="4.1" fill="#3a3a3a"/>
<circle cx="506.5" cy="611.2" r="8" fill="url(#hg)"/><path d="M500.2,608.6 A6.7,6.7 0 0 1 512.8,608.6" fill="none" stroke="#c6c6c6" stroke-width="1.1" opacity=".8"/><circle cx="506.5" cy="610.8" r="4.1" fill="#3a3a3a"/>
<circle cx="506.5" cy="635.2" r="8" fill="url(#hg)"/><path d="M500.2,632.6 A6.7,6.7 0 0 1 512.8,632.6" fill="none" stroke="#c6c6c6" stroke-width="1.1" opacity=".8"/><circle cx="506.5" cy="634.8" r="4.1" fill="#3a3a3a"/>
<circle cx="530.7" cy="369.6" r="8" fill="url(#hg)"/><path d="M524.4,367.0 A6.7,6.7 0 0 1 537.0,367.0" fill="none" stroke="#c6c6c6" stroke-width="1.1" opacity=".8"/><circle cx="530.7" cy="369.2" r="4.1" fill="#3a3a3a"/>
<circle cx="530.7" cy="393.7" r="8" fill="url(#hg)"/><path d="M524.4,391.1 A6.7,6.7 0 0 1 537.0,391.1" fill="none" stroke="#c6c6c6" stroke-width="1.1" opacity=".8"/><circle cx="530.7" cy="393.3" r="4.1" fill="#3a3a3a"/>
<circle cx="530.7" cy="417.9" r="8" fill="url(#hg)"/><path d="M524.4,415.3 A6.7,6.7 0 0 1 537.0,415.3" fill="none" stroke="#c6c6c6" stroke-width="1.1" opacity=".8"/><circle cx="530.7" cy="417.5" r="4.1" fill="#3a3a3a"/>
<circle cx="530.7" cy="442.0" r="8" fill="url(#hg)"/><path d="M524.4,439.4 A6.7,6.7 0 0 1 537.0,439.4" fill="none" stroke="#c6c6c6" stroke-width="1.1" opacity=".8"/><circle cx="530.7" cy="441.6" r="4.1" fill="#3a3a3a"/>
<circle cx="530.7" cy="466.2" r="8" fill="url(#hg)"/><path d="M524.4,463.6 A6.7,6.7 0 0 1 537.0,463.6" fill="none" stroke="#c6c6c6" stroke-width="1.1" opacity=".8"/><circle cx="530.7" cy="465.8" r="4.1" fill="#3a3a3a"/>
<circle cx="530.7" cy="538.7" r="8" fill="url(#hg)"/><path d="M524.4,536.1 A6.7,6.7 0 0 1 537.0,536.1" fill="none" stroke="#c6c6c6" stroke-width="1.1" opacity=".8"/><circle cx="530.7" cy="538.3" r="4.1" fill="#3a3a3a"/>
<circle cx="530.7" cy="562.8" r="8" fill="url(#hg)"/><path d="M524.4,560.2 A6.7,6.7 0 0 1 537.0,560.2" fill="none" stroke="#c6c6c6" stroke-width="1.1" opacity=".8"/><circle cx="530.7" cy="562.4" r="4.1" fill="#3a3a3a"/>
<circle cx="530.7" cy="587.0" r="8" fill="url(#hg)"/><path d="M524.4,584.4 A6.7,6.7 0 0 1 537.0,584.4" fill="none" stroke="#c6c6c6" stroke-width="1.1" opacity=".8"/><circle cx="530.7" cy="586.6" r="4.1" fill="#3a3a3a"/>
<circle cx="530.7" cy="611.2" r="8" fill="url(#hg)"/><path d="M524.4,608.6 A6.7,6.7 0 0 1 537.0,608.6" fill="none" stroke="#c6c6c6" stroke-width="1.1" opacity=".8"/><circle cx="530.7" cy="610.8" r="4.1" fill="#3a3a3a"/>
<circle cx="530.7" cy="635.2" r="8" fill="url(#hg)"/><path d="M524.4,632.6 A6.7,6.7 0 0 1 537.0,632.6" fill="none" stroke="#c6c6c6" stroke-width="1.1" opacity=".8"/><circle cx="530.7" cy="634.8" r="4.1" fill="#3a3a3a"/>
<text transform="translate(102.2,341.9) rotate(-90)" text-anchor="middle" font-size="15.5" fill="#b2b2b2" textLength="16.4" lengthAdjust="spacingAndGlyphs">45</text>
<text transform="translate(102.2,664.1) rotate(-90)" text-anchor="middle" font-size="15.5" fill="#b2b2b2" textLength="16.4" lengthAdjust="spacingAndGlyphs">45</text>
<text transform="translate(223.0,341.9) rotate(-90)" text-anchor="middle" font-size="15.5" fill="#b2b2b2" textLength="16.4" lengthAdjust="spacingAndGlyphs">50</text>
<text transform="translate(223.0,664.1) rotate(-90)" text-anchor="middle" font-size="15.5" fill="#b2b2b2" textLength="16.4" lengthAdjust="spacingAndGlyphs">50</text>
<text transform="translate(343.8,341.9) rotate(-90)" text-anchor="middle" font-size="15.5" fill="#b2b2b2" textLength="16.4" lengthAdjust="spacingAndGlyphs">55</text>
<text transform="translate(343.8,664.1) rotate(-90)" text-anchor="middle" font-size="15.5" fill="#b2b2b2" textLength="16.4" lengthAdjust="spacingAndGlyphs">55</text>
<text transform="translate(464.6,341.9) rotate(-90)" text-anchor="middle" font-size="15.5" fill="#b2b2b2" textLength="16.4" lengthAdjust="spacingAndGlyphs">60</text>
<text transform="translate(464.6,664.1) rotate(-90)" text-anchor="middle" font-size="15.5" fill="#b2b2b2" textLength="16.4" lengthAdjust="spacingAndGlyphs">60</text>
<text transform="translate(558.3,369.5) rotate(-90)" text-anchor="middle" font-size="15" fill="#b7b7b7">J</text>
<text transform="translate(558.3,393.6) rotate(-90)" text-anchor="middle" font-size="15" fill="#b7b7b7">I</text>
<text transform="translate(558.3,417.8) rotate(-90)" text-anchor="middle" font-size="15" fill="#b7b7b7">H</text>
<text transform="translate(558.3,441.90000000000003) rotate(-90)" text-anchor="middle" font-size="15" fill="#b7b7b7">G</text>
<text transform="translate(558.3,466.1) rotate(-90)" text-anchor="middle" font-size="15" fill="#b7b7b7">F</text>
<text transform="translate(558.3,538.5999999999999) rotate(-90)" text-anchor="middle" font-size="15" fill="#b7b7b7">E</text>
<text transform="translate(558.3,562.6999999999999) rotate(-90)" text-anchor="middle" font-size="15" fill="#b7b7b7">D</text>
<text transform="translate(558.3,586.9) rotate(-90)" text-anchor="middle" font-size="15" fill="#b7b7b7">C</text>
<text transform="translate(558.3,611.0999999999999) rotate(-90)" text-anchor="middle" font-size="15" fill="#b7b7b7">B</text>
<text transform="translate(558.3,635.0999999999999) rotate(-90)" text-anchor="middle" font-size="15" fill="#b7b7b7">A</text>
</g>
<g id="nodemcu">
<rect x="38" y="383.8" width="450.8" height="235.7" rx="15" fill="#424242"/>
<rect x="38" y="426.3" width="223.3" height="150.7" fill="#000"/>
<circle cx="58" cy="403.8" r="15.3" fill="#eeeeee"/>
<circle cx="48.7" cy="394.5" r="3.6" fill="#d0d0d0"/>
<circle cx="46.7" cy="392.5" r="3.1" fill="#424242"/>
<circle cx="67.3" cy="394.5" r="3.6" fill="#d0d0d0"/>
<circle cx="69.3" cy="392.5" r="3.1" fill="#424242"/>
<circle cx="48.7" cy="413.1" r="3.6" fill="#d0d0d0"/>
<circle cx="46.7" cy="415.1" r="3.1" fill="#424242"/>
<circle cx="67.3" cy="413.1" r="3.6" fill="#d0d0d0"/>
<circle cx="69.3" cy="415.1" r="3.1" fill="#424242"/>
<circle cx="469.5" cy="403.8" r="15.3" fill="#eeeeee"/>
<circle cx="460.2" cy="394.5" r="3.6" fill="#d0d0d0"/>
<circle cx="458.2" cy="392.5" r="3.1" fill="#424242"/>
<circle cx="478.8" cy="394.5" r="3.6" fill="#d0d0d0"/>
<circle cx="480.8" cy="392.5" r="3.1" fill="#424242"/>
<circle cx="460.2" cy="413.1" r="3.6" fill="#d0d0d0"/>
<circle cx="458.2" cy="415.1" r="3.1" fill="#424242"/>
<circle cx="478.8" cy="413.1" r="3.6" fill="#d0d0d0"/>
<circle cx="480.8" cy="415.1" r="3.1" fill="#424242"/>
<circle cx="58" cy="599.5" r="15.3" fill="#eeeeee"/>
<circle cx="48.7" cy="590.2" r="3.6" fill="#d0d0d0"/>
<circle cx="46.7" cy="588.2" r="3.1" fill="#424242"/>
<circle cx="67.3" cy="590.2" r="3.6" fill="#d0d0d0"/>
<circle cx="69.3" cy="588.2" r="3.1" fill="#424242"/>
<circle cx="48.7" cy="608.8" r="3.6" fill="#d0d0d0"/>
<circle cx="46.7" cy="610.8" r="3.1" fill="#424242"/>
<circle cx="67.3" cy="608.8" r="3.6" fill="#d0d0d0"/>
<circle cx="69.3" cy="610.8" r="3.1" fill="#424242"/>
<circle cx="469.5" cy="599.5" r="15.3" fill="#eeeeee"/>
<circle cx="460.2" cy="590.2" r="3.6" fill="#d0d0d0"/>
<circle cx="458.2" cy="588.2" r="3.1" fill="#424242"/>
<circle cx="478.8" cy="590.2" r="3.6" fill="#d0d0d0"/>
<circle cx="480.8" cy="588.2" r="3.1" fill="#424242"/>
<circle cx="460.2" cy="608.8" r="3.6" fill="#d0d0d0"/>
<circle cx="458.2" cy="610.8" r="3.1" fill="#424242"/>
<circle cx="478.8" cy="608.8" r="3.6" fill="#d0d0d0"/>
<circle cx="480.8" cy="610.8" r="3.1" fill="#424242"/>
<rect x="88.2" y="385.59999999999997" width="15.2" height="15.2" fill="#3ba444"/>
<circle cx="95.8" cy="393.2" r="5.6" fill="#21902b" stroke="#95df98" stroke-width="2.8"/>
<text x="95.8" y="414.2" text-anchor="middle" font-size="10.4" fill="#f2f2f2" textLength="11.8" lengthAdjust="spacingAndGlyphs">D0</text>
<rect x="88.2" y="602.4" width="15.2" height="15.2" fill="#3ba444"/>
<circle cx="95.8" cy="610" r="5.6" fill="#21902b" stroke="#95df98" stroke-width="2.8"/>
<text transform="translate(95.8,589.3) rotate(180)" text-anchor="middle" font-size="10.4" fill="#f2f2f2" textLength="11.8" lengthAdjust="spacingAndGlyphs">A0</text>
<rect x="112.3" y="385.59999999999997" width="15.2" height="15.2" fill="#3ba444"/>
<circle cx="119.9" cy="393.2" r="5.6" fill="#21902b" stroke="#95df98" stroke-width="2.8"/>
<text x="119.9" y="414.2" text-anchor="middle" font-size="10.4" fill="#f2f2f2" textLength="11.8" lengthAdjust="spacingAndGlyphs">D1</text>
<rect x="112.3" y="602.4" width="15.2" height="15.2" fill="#3ba444"/>
<circle cx="119.9" cy="610" r="5.6" fill="#21902b" stroke="#95df98" stroke-width="2.8"/>
<text transform="translate(119.9,589.3) rotate(180)" text-anchor="middle" font-size="10.4" fill="#f2f2f2" textLength="17.8" lengthAdjust="spacingAndGlyphs">RSV</text>
<rect x="136.5" y="385.59999999999997" width="15.2" height="15.2" fill="#3ba444"/>
<circle cx="144.1" cy="393.2" r="5.6" fill="#21902b" stroke="#95df98" stroke-width="2.8"/>
<text x="144.1" y="414.2" text-anchor="middle" font-size="10.4" fill="#f2f2f2" textLength="11.8" lengthAdjust="spacingAndGlyphs">D2</text>
<rect x="136.5" y="602.4" width="15.2" height="15.2" fill="#3ba444"/>
<circle cx="144.1" cy="610" r="5.6" fill="#21902b" stroke="#95df98" stroke-width="2.8"/>
<text transform="translate(144.1,589.3) rotate(180)" text-anchor="middle" font-size="10.4" fill="#f2f2f2" textLength="17.8" lengthAdjust="spacingAndGlyphs">RSV</text>
<rect x="160.7" y="385.59999999999997" width="15.2" height="15.2" fill="#3ba444"/>
<circle cx="168.3" cy="393.2" r="5.6" fill="#21902b" stroke="#95df98" stroke-width="2.8"/>
<text x="168.3" y="414.2" text-anchor="middle" font-size="10.4" fill="#f2f2f2" textLength="11.8" lengthAdjust="spacingAndGlyphs">D3</text>
<rect x="160.7" y="602.4" width="15.2" height="15.2" fill="#3ba444"/>
<circle cx="168.3" cy="610" r="5.6" fill="#21902b" stroke="#95df98" stroke-width="2.8"/>
<text transform="translate(168.3,589.3) rotate(180)" text-anchor="middle" font-size="10.4" fill="#f2f2f2" textLength="17.8" lengthAdjust="spacingAndGlyphs">SD3</text>
<rect x="184.8" y="385.59999999999997" width="15.2" height="15.2" fill="#3ba444"/>
<circle cx="192.4" cy="393.2" r="5.6" fill="#21902b" stroke="#95df98" stroke-width="2.8"/>
<text x="192.4" y="414.2" text-anchor="middle" font-size="10.4" fill="#f2f2f2" textLength="11.8" lengthAdjust="spacingAndGlyphs">D4</text>
<rect x="184.8" y="602.4" width="15.2" height="15.2" fill="#3ba444"/>
<circle cx="192.4" cy="610" r="5.6" fill="#21902b" stroke="#95df98" stroke-width="2.8"/>
<text transform="translate(192.4,589.3) rotate(180)" text-anchor="middle" font-size="10.4" fill="#f2f2f2" textLength="17.8" lengthAdjust="spacingAndGlyphs">SD2</text>
<rect x="209.0" y="385.59999999999997" width="15.2" height="15.2" fill="#3ba444"/>
<circle cx="216.6" cy="393.2" r="5.6" fill="#21902b" stroke="#95df98" stroke-width="2.8"/>
<text x="216.6" y="414.2" text-anchor="middle" font-size="10.4" fill="#f2f2f2" textLength="17.8" lengthAdjust="spacingAndGlyphs">3V3</text>
<rect x="209.0" y="602.4" width="15.2" height="15.2" fill="#3ba444"/>
<circle cx="216.6" cy="610" r="5.6" fill="#21902b" stroke="#95df98" stroke-width="2.8"/>
<text transform="translate(216.6,589.3) rotate(180)" text-anchor="middle" font-size="10.4" fill="#f2f2f2" textLength="17.8" lengthAdjust="spacingAndGlyphs">SD1</text>
<rect x="233.1" y="385.59999999999997" width="15.2" height="15.2" fill="#3ba444"/>
<rect x="234.1" y="386.59999999999997" width="13.2" height="13.2" fill="#8fdc93"/>
<circle cx="240.7" cy="393.2" r="3.4" fill="#2f9a3c"/>
<text x="240.7" y="414.2" text-anchor="middle" font-size="10.4" fill="#f2f2f2" textLength="19.3" lengthAdjust="spacingAndGlyphs">GND</text>
<rect x="233.1" y="602.4" width="15.2" height="15.2" fill="#3ba444"/>
<circle cx="240.7" cy="610" r="5.6" fill="#21902b" stroke="#95df98" stroke-width="2.8"/>
<text transform="translate(240.7,589.3) rotate(180)" text-anchor="middle" font-size="10.4" fill="#f2f2f2" textLength="19.3" lengthAdjust="spacingAndGlyphs">CMD</text>
<rect x="257.3" y="385.59999999999997" width="15.2" height="15.2" fill="#3ba444"/>
<circle cx="264.9" cy="393.2" r="5.6" fill="#21902b" stroke="#95df98" stroke-width="2.8"/>
<text x="264.9" y="414.2" text-anchor="middle" font-size="10.4" fill="#f2f2f2" textLength="11.8" lengthAdjust="spacingAndGlyphs">D5</text>
<rect x="257.3" y="602.4" width="15.2" height="15.2" fill="#3ba444"/>
<circle cx="264.9" cy="610" r="5.6" fill="#21902b" stroke="#95df98" stroke-width="2.8"/>
<text transform="translate(264.9,589.3) rotate(180)" text-anchor="middle" font-size="10.4" fill="#f2f2f2" textLength="17.8" lengthAdjust="spacingAndGlyphs">SD0</text>
<rect x="281.5" y="385.59999999999997" width="15.2" height="15.2" fill="#3ba444"/>
<circle cx="289.1" cy="393.2" r="5.6" fill="#21902b" stroke="#95df98" stroke-width="2.8"/>
<text x="289.1" y="414.2" text-anchor="middle" font-size="10.4" fill="#f2f2f2" textLength="11.8" lengthAdjust="spacingAndGlyphs">D6</text>
<rect x="281.5" y="602.4" width="15.2" height="15.2" fill="#3ba444"/>
<circle cx="289.1" cy="610" r="5.6" fill="#21902b" stroke="#95df98" stroke-width="2.8"/>
<text transform="translate(289.1,589.3) rotate(180)" text-anchor="middle" font-size="10.4" fill="#f2f2f2" textLength="17.8" lengthAdjust="spacingAndGlyphs">CLK</text>
<rect x="305.6" y="385.59999999999997" width="15.2" height="15.2" fill="#3ba444"/>
<circle cx="313.2" cy="393.2" r="5.6" fill="#21902b" stroke="#95df98" stroke-width="2.8"/>
<text x="313.2" y="414.2" text-anchor="middle" font-size="10.4" fill="#f2f2f2" textLength="11.8" lengthAdjust="spacingAndGlyphs">D7</text>
<rect x="305.6" y="602.4" width="15.2" height="15.2" fill="#3ba444"/>
<rect x="306.6" y="603.4" width="13.2" height="13.2" fill="#8fdc93"/>
<circle cx="313.2" cy="610" r="3.4" fill="#2f9a3c"/>
<text transform="translate(313.2,589.3) rotate(180)" text-anchor="middle" font-size="10.4" fill="#f2f2f2" textLength="19.3" lengthAdjust="spacingAndGlyphs">GND</text>
<rect x="329.8" y="385.59999999999997" width="15.2" height="15.2" fill="#3ba444"/>
<circle cx="337.4" cy="393.2" r="5.6" fill="#21902b" stroke="#95df98" stroke-width="2.8"/>
<text x="337.4" y="414.2" text-anchor="middle" font-size="10.4" fill="#f2f2f2" textLength="11.8" lengthAdjust="spacingAndGlyphs">D8</text>
<rect x="329.8" y="602.4" width="15.2" height="15.2" fill="#3ba444"/>
<circle cx="337.4" cy="610" r="5.6" fill="#21902b" stroke="#95df98" stroke-width="2.8"/>
<text transform="translate(337.4,589.3) rotate(180)" text-anchor="middle" font-size="10.4" fill="#f2f2f2" textLength="17.8" lengthAdjust="spacingAndGlyphs">3V3</text>
<rect x="353.9" y="385.59999999999997" width="15.2" height="15.2" fill="#3ba444"/>
<circle cx="361.5" cy="393.2" r="5.6" fill="#21902b" stroke="#95df98" stroke-width="2.8"/>
<text x="361.5" y="414.2" text-anchor="middle" font-size="10.4" fill="#f2f2f2" textLength="11.8" lengthAdjust="spacingAndGlyphs">RX</text>
<rect x="353.9" y="602.4" width="15.2" height="15.2" fill="#3ba444"/>
<circle cx="361.5" cy="610" r="5.6" fill="#21902b" stroke="#95df98" stroke-width="2.8"/>
<text transform="translate(361.5,589.3) rotate(180)" text-anchor="middle" font-size="10.4" fill="#f2f2f2" textLength="11.8" lengthAdjust="spacingAndGlyphs">EN</text>
<rect x="378.1" y="385.59999999999997" width="15.2" height="15.2" fill="#3ba444"/>
<circle cx="385.7" cy="393.2" r="5.6" fill="#21902b" stroke="#95df98" stroke-width="2.8"/>
<text x="385.7" y="414.2" text-anchor="middle" font-size="10.4" fill="#f2f2f2" textLength="11.8" lengthAdjust="spacingAndGlyphs">TX</text>
<rect x="378.1" y="602.4" width="15.2" height="15.2" fill="#3ba444"/>
<circle cx="385.7" cy="610" r="5.6" fill="#21902b" stroke="#95df98" stroke-width="2.8"/>
<text transform="translate(385.7,589.3) rotate(180)" text-anchor="middle" font-size="10.4" fill="#f2f2f2" textLength="17.8" lengthAdjust="spacingAndGlyphs">RST</text>
<rect x="402.3" y="385.59999999999997" width="15.2" height="15.2" fill="#3ba444"/>
<rect x="403.3" y="386.59999999999997" width="13.2" height="13.2" fill="#8fdc93"/>
<circle cx="409.9" cy="393.2" r="3.4" fill="#2f9a3c"/>
<text x="409.9" y="414.2" text-anchor="middle" font-size="10.4" fill="#f2f2f2" textLength="19.3" lengthAdjust="spacingAndGlyphs">GND</text>
<rect x="402.3" y="602.4" width="15.2" height="15.2" fill="#3ba444"/>
<rect x="403.3" y="603.4" width="13.2" height="13.2" fill="#8fdc93"/>
<circle cx="409.9" cy="610" r="3.4" fill="#2f9a3c"/>
<text transform="translate(409.9,589.3) rotate(180)" text-anchor="middle" font-size="10.4" fill="#f2f2f2" textLength="19.3" lengthAdjust="spacingAndGlyphs">GND</text>
<rect x="426.4" y="385.59999999999997" width="15.2" height="15.2" fill="#3ba444"/>
<circle cx="434.0" cy="393.2" r="5.6" fill="#21902b" stroke="#95df98" stroke-width="2.8"/>
<text x="434.0" y="414.2" text-anchor="middle" font-size="10.4" fill="#f2f2f2" textLength="17.8" lengthAdjust="spacingAndGlyphs">3V3</text>
<rect x="426.4" y="602.4" width="15.2" height="15.2" fill="#3ba444"/>
<circle cx="434.0" cy="610" r="5.6" fill="#21902b" stroke="#95df98" stroke-width="2.8"/>
<text transform="translate(434.0,589.3) rotate(180)" text-anchor="middle" font-size="10.4" fill="#f2f2f2" textLength="17.8" lengthAdjust="spacingAndGlyphs">Vin</text>
<path d="M43.5,441.5 V478.3 H79 V490 H43.5 V501.8 H79 V513.6 H43.5 V525.3 H79 V537 H43.5 V543.2 H99.5 V478" fill="none" stroke="#b3a67f" stroke-width="3.4" stroke-linejoin="miter"/>
<rect x="91.5" y="431" width="10.5" height="23.5" rx="1" fill="#8c8c8c"/><rect x="91.5" y="435" width="10.5" height="14.5" fill="#f2f2f2"/>
<rect x="109.4" y="423.6" width="11.2" height="17" fill="#b7ab86"/><rect x="111.8" y="428" width="6.4" height="7" fill="#d8d0b4"/>
<rect x="109.4" y="562.2" width="11.2" height="15.6" fill="#b7ab86"/><rect x="111.8" y="565" width="6.4" height="7" fill="#d8d0b4"/>
<rect x="128.3" y="423.6" width="11.2" height="17" fill="#b7ab86"/><rect x="130.7" y="428" width="6.4" height="7" fill="#d8d0b4"/>
<rect x="128.3" y="562.2" width="11.2" height="15.6" fill="#b7ab86"/><rect x="130.7" y="565" width="6.4" height="7" fill="#d8d0b4"/>
<rect x="147.3" y="423.6" width="11.2" height="17" fill="#b7ab86"/><rect x="149.7" y="428" width="6.4" height="7" fill="#d8d0b4"/>
<rect x="147.3" y="562.2" width="11.2" height="15.6" fill="#b7ab86"/><rect x="149.7" y="565" width="6.4" height="7" fill="#d8d0b4"/>
<rect x="166.2" y="423.6" width="11.2" height="17" fill="#b7ab86"/><rect x="168.6" y="428" width="6.4" height="7" fill="#d8d0b4"/>
<rect x="166.2" y="562.2" width="11.2" height="15.6" fill="#b7ab86"/><rect x="168.6" y="565" width="6.4" height="7" fill="#d8d0b4"/>
<rect x="185.1" y="423.6" width="11.2" height="17" fill="#b7ab86"/><rect x="187.5" y="428" width="6.4" height="7" fill="#d8d0b4"/>
<rect x="185.1" y="562.2" width="11.2" height="15.6" fill="#b7ab86"/><rect x="187.5" y="565" width="6.4" height="7" fill="#d8d0b4"/>
<rect x="204.1" y="423.6" width="11.2" height="17" fill="#b7ab86"/><rect x="206.5" y="428" width="6.4" height="7" fill="#d8d0b4"/>
<rect x="204.1" y="562.2" width="11.2" height="15.6" fill="#b7ab86"/><rect x="206.5" y="565" width="6.4" height="7" fill="#d8d0b4"/>
<rect x="223.0" y="423.6" width="11.2" height="17" fill="#b7ab86"/><rect x="225.4" y="428" width="6.4" height="7" fill="#d8d0b4"/>
<rect x="223.0" y="562.2" width="11.2" height="15.6" fill="#b7ab86"/><rect x="225.4" y="565" width="6.4" height="7" fill="#d8d0b4"/>
<rect x="241.9" y="423.6" width="11.2" height="17" fill="#b7ab86"/><rect x="244.3" y="428" width="6.4" height="7" fill="#d8d0b4"/>
<rect x="241.9" y="562.2" width="11.2" height="15.6" fill="#b7ab86"/><rect x="244.3" y="565" width="6.4" height="7" fill="#d8d0b4"/>
<rect x="255.5" y="448.9" width="7.5" height="11.2" fill="#b7ab86"/><rect x="257.5" y="451.5" width="5" height="6" fill="#d8d0b4"/>
<rect x="255.5" y="467.6" width="7.5" height="11.2" fill="#b7ab86"/><rect x="257.5" y="470.2" width="5" height="6" fill="#d8d0b4"/>
<rect x="255.5" y="486.4" width="7.5" height="11.2" fill="#b7ab86"/><rect x="257.5" y="489.0" width="5" height="6" fill="#d8d0b4"/>
<rect x="255.5" y="505.1" width="7.5" height="11.2" fill="#b7ab86"/><rect x="257.5" y="507.8" width="5" height="6" fill="#d8d0b4"/>
<rect x="255.5" y="523.9" width="7.5" height="11.2" fill="#b7ab86"/><rect x="257.5" y="526.5" width="5" height="6" fill="#d8d0b4"/>
<rect x="255.5" y="542.6" width="7.5" height="11.2" fill="#b7ab86"/><rect x="257.5" y="545.2" width="5" height="6" fill="#d8d0b4"/>
<rect x="106.9" y="446.9" width="141.2" height="108.6" fill="#8f8c84" stroke="#c9c6be" stroke-width="1.4"/>
<circle cx="138" cy="473.8" r="17.6" fill="none" stroke="#c3c0b8" stroke-width="1.3"/>
<g fill="none" stroke="#c3c0b8" stroke-width="3.3" stroke-linecap="round"><path d="M128.5,462.5 A19,19 0 0 1 151.5,486"/><path d="M127.5,468.3 A13.5,13.5 0 0 1 145.3,486.5"/><path d="M127.8,474.5 A8,8 0 0 1 138.5,486"/></g><circle cx="128.8" cy="483.2" r="2.9" fill="#c3c0b8"/>
<rect x="164" y="457.2" width="73.2" height="32" rx="16" fill="none" stroke="#c3c0b8" stroke-width="1.3"/>
<path d="M180,457.2 H204 Q208,473 196,489.2 H180 A16,16 0 0 1 180,457.2 Z" fill="#c3c0b8"/>
<text x="169.5" y="481.3" font-size="24" font-weight="bold" fill="#8f8c84" textLength="28.5" lengthAdjust="spacingAndGlyphs">Wi</text>
<text x="208.5" y="481.3" font-size="24" font-weight="bold" fill="#c3c0b8" textLength="21.5" lengthAdjust="spacingAndGlyphs">Fi</text>
<g class="mono" fill="#c3c0b8" stroke="#c3c0b8" stroke-width=".3" font-size="9.8"><text x="121.8" y="502.6">MODEL</text><text x="121.8" y="512.8">VENDOR</text><text x="168" y="505.8" font-size="10.7" font-weight="bold">ESP8266MOD</text><text x="169.3" y="524.5">ISM 2.4GHz</text><text x="169.3" y="535.7">PA</text><text x="192.8" y="535.7">+25dBm</text><text x="169.3" y="547">802.11b/g/n</text></g>
<path d="M121.8,518.8 H140 V523.6 H127 V531 H137 V535.6 H127 V547.5 H121.8 Z" fill="#c3c0b8"/>
<path d="M163.2,525.2 A13,13 0 1 0 163.2,540" fill="none" stroke="#c3c0b8" stroke-width="5"/>
<path d="M163.5,528.6 A6.2,6.2 0 1 0 163.5,536.6" fill="none" stroke="#c3c0b8" stroke-width="2.6"/>
<rect x="345.0" y="422.4" width="16" height="5.2" fill="#b0b0b0"/><rect x="350.0" y="422.4" width="6.1" height="5.2" fill="#0a0a0a"/>
<rect x="345.0" y="437.4" width="16" height="5.2" fill="#b0b0b0"/><rect x="350.0" y="437.4" width="6.1" height="5.2" fill="#0a0a0a"/>
<rect x="345.0" y="452.9" width="16" height="5.2" fill="#b0b0b0"/><rect x="350.0" y="452.9" width="6.1" height="5.2" fill="#0a0a0a"/>
<rect x="345.0" y="468.2" width="16" height="5.2" fill="#b0b0b0"/><rect x="350.0" y="468.2" width="6.1" height="5.2" fill="#0a0a0a"/>
<rect x="345.0" y="482.9" width="16" height="5.2" fill="#b0b0b0"/><rect x="350.0" y="482.9" width="6.1" height="5.2" fill="#8a4b2d"/>
<rect x="345.0" y="498.2" width="16" height="5.2" fill="#b0b0b0"/><rect x="350.0" y="498.2" width="6.1" height="5.2" fill="#8a4b2d"/>
<rect x="345.0" y="513.7" width="16" height="5.2" fill="#b0b0b0"/><rect x="350.0" y="513.7" width="6.1" height="5.2" fill="#8a4b2d"/>
<rect x="345.0" y="529.4" width="16" height="5.2" fill="#b0b0b0"/><rect x="350.0" y="529.4" width="6.1" height="5.2" fill="#8a4b2d"/>
<rect x="345.0" y="544.9" width="16" height="5.2" fill="#b0b0b0"/><rect x="350.0" y="544.9" width="6.1" height="5.2" fill="#0a0a0a"/>
<rect x="345.0" y="560.7" width="16" height="5.2" fill="#b0b0b0"/><rect x="350.0" y="560.7" width="6.1" height="5.2" fill="#0a0a0a"/>
<rect x="170.5" y="415.5" width="16" height="5" fill="#b0b0b0"/><rect x="175.5" y="415.5" width="6.1" height="5" fill="#0a0a0a"/>
<rect x="197.5" y="415.5" width="16" height="5" fill="#b0b0b0"/><rect x="202.5" y="415.5" width="6.1" height="5" fill="#0a0a0a"/>
<rect x="225.5" y="415.5" width="16" height="5" fill="#b0b0b0"/><rect x="230.5" y="415.5" width="6.1" height="5" fill="#0a0a0a"/>
<rect x="89.5" y="582.8" width="16" height="5" fill="#b0b0b0"/><rect x="94.5" y="582.8" width="6.1" height="5" fill="#0a0a0a"/>
<rect x="117.0" y="582.8" width="16" height="5" fill="#b0b0b0"/><rect x="122.0" y="582.8" width="6.1" height="5" fill="#0a0a0a"/>
<rect x="145.0" y="582.8" width="16" height="5" fill="#b0b0b0"/><rect x="150.0" y="582.8" width="6.1" height="5" fill="#0a0a0a"/>
<rect x="396.5" y="529.3" width="15" height="5" fill="#b0b0b0"/><rect x="401.1" y="529.3" width="5.7" height="5" fill="#8a4b2d"/>
<rect x="396.5" y="544.8" width="15" height="5" fill="#b0b0b0"/><rect x="401.1" y="544.8" width="5.7" height="5" fill="#8a4b2d"/>
<rect x="307.3" y="533.0" width="23" height="10" fill="#b0b0b0"/><rect x="314.4" y="533.0" width="8.7" height="10" fill="#8a4b2d"/>
<rect x="373" y="527.5" width="10.5" height="23" rx="1" fill="#9a9a9a"/><rect x="373" y="532" width="10.5" height="14" fill="#f4f4f4"/>
<rect x="325.8" y="418.3" width="9.4" height="9.4" fill="#9c9c9c"/><rect x="328.3" y="420.8" width="4.4" height="4.4" fill="#cdcdcd"/>
<rect x="325.8" y="436.1" width="9.4" height="9.4" fill="#9c9c9c"/><rect x="328.3" y="438.6" width="4.4" height="4.4" fill="#cdcdcd"/>
<rect x="305.3" y="427.3" width="9.4" height="9.4" fill="#9c9c9c"/><rect x="307.8" y="429.8" width="4.4" height="4.4" fill="#cdcdcd"/>
<rect x="314.5" y="419.5" width="10.5" height="25" fill="#050505"/>
<text transform="translate(322.1,432) rotate(-90)" text-anchor="middle" font-size="5.5" fill="#5a5a5a">J3Y</text>
<rect x="374.1" y="418.3" width="9.4" height="9.4" fill="#9c9c9c"/><rect x="376.6" y="420.8" width="4.4" height="4.4" fill="#cdcdcd"/>
<rect x="374.1" y="436.1" width="9.4" height="9.4" fill="#9c9c9c"/><rect x="376.6" y="438.6" width="4.4" height="4.4" fill="#cdcdcd"/>
<rect x="394.8" y="427.3" width="9.4" height="9.4" fill="#9c9c9c"/><rect x="397.3" y="429.8" width="4.4" height="4.4" fill="#cdcdcd"/>
<rect x="385" y="419.5" width="10.5" height="25" fill="#050505"/>
<text transform="translate(392.5,432) rotate(-90)" text-anchor="middle" font-size="5.5" fill="#5a5a5a">A1T</text>
<rect x="288.8" y="453" width="30" height="18" fill="#a8a8a8"/><rect x="288.8" y="459" width="30" height="6" fill="#8e8e8e"/>
<rect x="278.8" y="500" width="10" height="21" fill="#8b8b8b"/><rect x="280.6" y="503" width="6.4" height="8" fill="#b9b9b9"/>
<rect x="298.3" y="500" width="10" height="21" fill="#8b8b8b"/><rect x="300.1" y="503" width="6.4" height="8" fill="#b9b9b9"/>
<rect x="317.5" y="500" width="10" height="21" fill="#8b8b8b"/><rect x="319.3" y="503" width="6.4" height="8" fill="#b9b9b9"/>
<rect x="276.3" y="472" width="57.5" height="28" fill="#050505"/>
<g font-size="6.3" fill="#727272"><text x="290" y="484.6">AMS1117</text><text x="284" y="493.5">3.3</text><text x="304.5" y="493.5">DN711</text></g>
<rect x="284.5" y="557.5" width="38.5" height="22" fill="#8b8b8b"/><rect x="287.5" y="555" width="32.5" height="27" rx="1" fill="#f5a51b"/><rect x="287.5" y="555" width="5" height="27" fill="#e0900f"/>
<g font-size="3.6" fill="#c9841a"><text x="299" y="567">106C</text><text x="297.5" y="572.6">116K7</text></g>
<rect x="376.2" y="464.2" width="50" height="49.6" fill="none" stroke="#b7ab70" stroke-width="1.6" stroke-dasharray="1.6 2.3"/>
<rect x="377.5" y="465.5" width="47.5" height="47" fill="#050505"/><circle cx="384.3" cy="472" r="1.4" fill="#6a6a6a"/>
<g font-size="6.6" fill="#646464" text-anchor="middle"><text x="402.5" y="478.8">SILABS</text><text x="403" y="488">CP2102</text><text x="402" y="497">DCL00X</text><text x="400" y="506">1708*</text></g>
<rect x="388" y="562" width="25" height="11" rx="1" fill="#9a9a9a"/><rect x="392.5" y="563" width="15.5" height="9" fill="#111"/><text x="400.3" y="570" font-size="5" fill="#666" text-anchor="middle">S4</text>
<rect x="436.5" y="437" width="6.5" height="12" fill="#9a9a9a"/><rect x="482" y="437" width="6.5" height="12" fill="#9a9a9a"/>
<path d="M446,431 H479 L482.5,434.5 V451.5 L479,455 H446 L442.5,451.5 V434.5 Z" fill="#ececec" stroke="#b4b4b4" stroke-width="1"/>
<circle cx="462.5" cy="443" r="9.3" fill="#8e8e8e" stroke="#6e6e6e" stroke-width="1.2"/>
<text transform="translate(430.5,443.5) rotate(-90)" text-anchor="middle" font-size="10.4" fill="#f2f2f2" textLength="34" lengthAdjust="spacingAndGlyphs">FLASH</text>
<rect x="436.5" y="552.8" width="6.5" height="12" fill="#9a9a9a"/><rect x="482" y="552.8" width="6.5" height="12" fill="#9a9a9a"/>
<path d="M446,546.8 H479 L482.5,550.3 V567.3 L479,570.8 H446 L442.5,567.3 V550.3 Z" fill="#ececec" stroke="#b4b4b4" stroke-width="1"/>
<circle cx="462.5" cy="558.8" r="9.3" fill="#8e8e8e" stroke="#6e6e6e" stroke-width="1.2"/>
<text transform="translate(430.5,559.8) rotate(-90)" text-anchor="middle" font-size="10.4" fill="#f2f2f2" textLength="19" lengthAdjust="spacingAndGlyphs">RST</text>
<path d="M444,478 a4,4 0 0 1 4,-4 v8 a4,4 0 0 1 -4,-4z M444,524 a4,4 0 0 1 4,-4 v8 a4,4 0 0 1 -4,-4z" fill="#9a9a9a"/>
<rect x="442" y="487" width="7" height="2.2" fill="#9a9a9a"/>
<rect x="442" y="493" width="7" height="2.2" fill="#9a9a9a"/>
<rect x="442" y="499" width="7" height="2.2" fill="#9a9a9a"/>
<rect x="442" y="505" width="7" height="2.2" fill="#9a9a9a"/>
<rect x="442" y="511" width="7" height="2.2" fill="#9a9a9a"/>
<rect x="447.5" y="466.3" width="52.5" height="70" fill="url(#usb)" stroke="#b0b0b0" stroke-width="1.2"/>
<rect x="496.5" y="470" width="2.2" height="62.5" fill="#a8a8a8"/>
<rect x="472" y="475.2" width="13" height="6.6" rx="3.3" fill="#2c2c2c"/><rect x="481.5" y="477.1" width="6" height="2.8" fill="#2c2c2c"/>
<rect x="472" y="520.7" width="13" height="6.6" rx="3.3" fill="#2c2c2c"/><rect x="481.5" y="522.6" width="6" height="2.8" fill="#2c2c2c"/>
<path d="M447.5,481 h7 v4.5 h2.5 v8 h-9.5z M447.5,522 h7 v-4.5 h2.5 v-8 h-9.5z" fill="#2c2c2c"/>
</g>
<g id="photo">
<path d="M1180,42 C1230,36 1270,20 1311,0" fill="none" stroke="#e8e020" stroke-width="2.6"/>
<path d="M1180,40.5 C1215,33 1260,28 1311,27" fill="none" stroke="#2e2e2e" stroke-width="2.8"/>
<path d="M1180,43.5 C1220,42 1265,50 1311,54" fill="none" stroke="#e8493c" stroke-width="3"/>
<path d="M1103.5,60.1 C1111.1,58.4 1118.7,57.4 1126.7,57.0 C1134.6,56.6 1143.1,56.8 1151.2,57.7 C1159.3,58.5 1167.8,59.9 1175.5,62.3 C1183.1,64.6 1190.5,67.5 1197.1,71.6 C1203.8,75.7 1209.8,80.8 1215.4,87.0 C1221.0,93.1 1226.1,100.7 1230.8,108.5 C1235.6,116.2 1240.1,125.3 1243.9,133.7 C1247.8,142.1 1251.3,150.9 1253.8,158.9 C1256.4,167.0 1258.3,174.7 1259.4,182.0 C1260.5,189.4 1260.7,196.2 1260.4,203.1 C1260.2,210.0 1259.1,216.7 1257.8,223.4 C1256.5,230.2 1254.7,236.9 1252.6,243.7 C1250.5,250.5 1248.0,257.4 1245.0,264.2 C1242.0,271.0 1238.5,277.9 1234.4,284.5 C1230.4,291.1 1225.7,297.9 1220.6,304.0 C1215.6,310.2 1209.9,316.3 1204.3,321.5 C1198.6,326.8 1192.8,331.5 1186.7,335.5 C1180.5,339.5 1174.5,342.8 1167.4,345.6 C1160.2,348.5 1152.4,350.7 1143.7,352.7 C1135.0,354.7 1124.9,356.4 1115.2,357.4 C1105.4,358.3 1095.0,359.1 1085.3,358.4 C1075.7,357.8 1066.4,356.4 1057.5,353.6 C1048.7,350.8 1040.2,346.6 1032.1,341.6 C1024.1,336.7 1016.3,330.4 1009.4,324.1 C1002.6,317.8 996.2,310.7 990.9,303.9 C985.5,297.0 981.1,289.9 977.3,283.0 C973.6,276.1 970.7,269.2 968.3,262.6 C965.9,256.0 964.1,249.6 962.8,243.5 C961.4,237.4 960.5,231.7 960.0,226.2 C959.5,220.6 959.4,215.5 959.6,210.1 C959.9,204.6 960.5,199.3 961.5,193.6 C962.5,187.8 963.9,181.8 965.7,175.5 C967.5,169.2 969.6,162.6 972.4,156.0 C975.2,149.4 978.4,142.6 982.3,135.8 C986.1,129.1 990.7,122.2 995.8,115.6 C1000.8,109.0 1006.7,102.3 1012.5,96.2 C1018.3,90.1 1024.5,84.3 1030.4,79.3 C1036.3,74.2 1042.1,69.8 1047.8,66.0 C1053.6,62.2 1059.1,59.1 1065.1,56.3 C1071.0,53.6 1077.0,51.4 1083.4,49.5 C1089.8,47.7 1096.5,46.3 1103.2,45.2 C1110.0,44.1 1117.0,43.5 1123.8,43.0 C1130.7,42.4 1137.7,42.3 1144.5,42.0 C1151.2,41.8 1157.9,41.8 1164.5,41.7 C1171.1,41.6 1180.8,41.5 1184.0,41.5" fill="none" stroke="#242424" stroke-width="11.6" stroke-linecap="butt"/>
<path d="M1103.5,60.1 C1111.1,58.4 1118.7,57.4 1126.7,57.0 C1134.6,56.6 1143.1,56.8 1151.2,57.7 C1159.3,58.5 1167.8,59.9 1175.5,62.3 C1183.1,64.6 1190.5,67.5 1197.1,71.6 C1203.8,75.7 1209.8,80.8 1215.4,87.0 C1221.0,93.1 1226.1,100.7 1230.8,108.5 C1235.6,116.2 1240.1,125.3 1243.9,133.7 C1247.8,142.1 1251.3,150.9 1253.8,158.9 C1256.4,167.0 1258.3,174.7 1259.4,182.0 C1260.5,189.4 1260.7,196.2 1260.4,203.1 C1260.2,210.0 1259.1,216.7 1257.8,223.4 C1256.5,230.2 1254.7,236.9 1252.6,243.7 C1250.5,250.5 1248.0,257.4 1245.0,264.2 C1242.0,271.0 1238.5,277.9 1234.4,284.5 C1230.4,291.1 1225.7,297.9 1220.6,304.0 C1215.6,310.2 1209.9,316.3 1204.3,321.5 C1198.6,326.8 1192.8,331.5 1186.7,335.5 C1180.5,339.5 1174.5,342.8 1167.4,345.6 C1160.2,348.5 1152.4,350.7 1143.7,352.7 C1135.0,354.7 1124.9,356.4 1115.2,357.4 C1105.4,358.3 1095.0,359.1 1085.3,358.4 C1075.7,357.8 1066.4,356.4 1057.5,353.6 C1048.7,350.8 1040.2,346.6 1032.1,341.6 C1024.1,336.7 1016.3,330.4 1009.4,324.1 C1002.6,317.8 996.2,310.7 990.9,303.9 C985.5,297.0 981.1,289.9 977.3,283.0 C973.6,276.1 970.7,269.2 968.3,262.6 C965.9,256.0 964.1,249.6 962.8,243.5 C961.4,237.4 960.5,231.7 960.0,226.2 C959.5,220.6 959.4,215.5 959.6,210.1 C959.9,204.6 960.5,199.3 961.5,193.6 C962.5,187.8 963.9,181.8 965.7,175.5 C967.5,169.2 969.6,162.6 972.4,156.0 C975.2,149.4 978.4,142.6 982.3,135.8 C986.1,129.1 990.7,122.2 995.8,115.6 C1000.8,109.0 1006.7,102.3 1012.5,96.2 C1018.3,90.1 1024.5,84.3 1030.4,79.3 C1036.3,74.2 1042.1,69.8 1047.8,66.0 C1053.6,62.2 1059.1,59.1 1065.1,56.3 C1071.0,53.6 1077.0,51.4 1083.4,49.5 C1089.8,47.7 1096.5,46.3 1103.2,45.2 C1110.0,44.1 1117.0,43.5 1123.8,43.0 C1130.7,42.4 1137.7,42.3 1144.5,42.0 C1151.2,41.8 1157.9,41.8 1164.5,41.7 C1171.1,41.6 1180.8,41.5 1184.0,41.5" fill="none" stroke="#4e4e4e" stroke-width="5" transform="translate(-0.9,-0.9)" opacity=".9"/>
<path d="M1103.5,60.1 C1111.1,58.4 1118.7,57.4 1126.7,57.0 C1134.6,56.6 1143.1,56.8 1151.2,57.7 C1159.3,58.5 1167.8,59.9 1175.5,62.3 C1183.1,64.6 1190.5,67.5 1197.1,71.6 C1203.8,75.7 1209.8,80.8 1215.4,87.0 C1221.0,93.1 1226.1,100.7 1230.8,108.5 C1235.6,116.2 1240.1,125.3 1243.9,133.7 C1247.8,142.1 1251.3,150.9 1253.8,158.9 C1256.4,167.0 1258.3,174.7 1259.4,182.0 C1260.5,189.4 1260.7,196.2 1260.4,203.1 C1260.2,210.0 1259.1,216.7 1257.8,223.4 C1256.5,230.2 1254.7,236.9 1252.6,243.7 C1250.5,250.5 1248.0,257.4 1245.0,264.2 C1242.0,271.0 1238.5,277.9 1234.4,284.5 C1230.4,291.1 1225.7,297.9 1220.6,304.0 C1215.6,310.2 1209.9,316.3 1204.3,321.5 C1198.6,326.8 1192.8,331.5 1186.7,335.5 C1180.5,339.5 1174.5,342.8 1167.4,345.6 C1160.2,348.5 1152.4,350.7 1143.7,352.7 C1135.0,354.7 1124.9,356.4 1115.2,357.4 C1105.4,358.3 1095.0,359.1 1085.3,358.4 C1075.7,357.8 1066.4,356.4 1057.5,353.6 C1048.7,350.8 1040.2,346.6 1032.1,341.6 C1024.1,336.7 1016.3,330.4 1009.4,324.1 C1002.6,317.8 996.2,310.7 990.9,303.9 C985.5,297.0 981.1,289.9 977.3,283.0 C973.6,276.1 970.7,269.2 968.3,262.6 C965.9,256.0 964.1,249.6 962.8,243.5 C961.4,237.4 960.5,231.7 960.0,226.2 C959.5,220.6 959.4,215.5 959.6,210.1 C959.9,204.6 960.5,199.3 961.5,193.6 C962.5,187.8 963.9,181.8 965.7,175.5 C967.5,169.2 969.6,162.6 972.4,156.0 C975.2,149.4 978.4,142.6 982.3,135.8 C986.1,129.1 990.7,122.2 995.8,115.6 C1000.8,109.0 1006.7,102.3 1012.5,96.2 C1018.3,90.1 1024.5,84.3 1030.4,79.3 C1036.3,74.2 1042.1,69.8 1047.8,66.0 C1053.6,62.2 1059.1,59.1 1065.1,56.3 C1071.0,53.6 1077.0,51.4 1083.4,49.5 C1089.8,47.7 1096.5,46.3 1103.2,45.2 C1110.0,44.1 1117.0,43.5 1123.8,43.0 C1130.7,42.4 1137.7,42.3 1144.5,42.0 C1151.2,41.8 1157.9,41.8 1164.5,41.7 C1171.1,41.6 1180.8,41.5 1184.0,41.5" fill="none" stroke="#7c7c7c" stroke-width="1.3" transform="translate(-1.2,-1.2)" opacity=".75"/>
<path d="M1097.4,72.2 C1105.8,70.1 1114.8,68.8 1123.4,68.3 C1132.0,67.8 1141.0,68.1 1149.1,69.3 C1157.3,70.6 1165.3,72.5 1172.3,75.8 C1179.4,79.1 1185.7,83.5 1191.4,89.1 C1197.1,94.8 1202.1,102.0 1206.6,109.6 C1211.2,117.2 1215.3,126.1 1218.8,134.6 C1222.3,143.1 1225.4,152.0 1227.8,160.7 C1230.2,169.4 1231.9,178.1 1233.0,186.9 C1234.0,195.7 1234.2,204.7 1234.0,213.5 C1233.7,222.3 1232.8,231.3 1231.4,239.5 C1230.0,247.8 1228.2,255.8 1225.8,263.3 C1223.4,270.8 1220.5,277.8 1216.9,284.5 C1213.4,291.1 1209.2,297.5 1204.5,303.3 C1199.8,309.1 1194.6,314.6 1188.8,319.4 C1182.9,324.2 1176.7,328.5 1169.3,332.2 C1161.9,335.8 1153.7,339.0 1144.6,341.3 C1135.5,343.6 1124.8,345.4 1114.6,346.3 C1104.5,347.1 1093.3,347.2 1083.5,346.5 C1073.7,345.8 1064.3,344.2 1056.1,342.0 C1047.8,339.8 1040.7,336.8 1034.1,333.1 C1027.5,329.4 1021.9,324.9 1016.5,319.8 C1011.0,314.7 1006.0,308.7 1001.4,302.6 C996.8,296.4 992.5,289.5 988.9,282.8 C985.3,276.0 982.2,268.9 979.8,261.9 C977.4,254.9 975.6,247.8 974.4,240.7 C973.1,233.6 972.4,226.3 972.3,219.1 C972.2,211.9 972.6,204.6 973.6,197.3 C974.6,190.1 976.2,182.9 978.5,175.7 C980.7,168.5 983.5,161.4 987.1,154.3 C990.6,147.2 994.8,140.0 999.7,133.0 C1004.7,126.1 1010.4,119.0 1016.7,112.4 C1022.9,105.8 1030.0,99.3 1037.1,93.6 C1044.2,87.9 1051.8,82.6 1059.2,78.2 C1066.6,73.8 1074.0,70.1 1081.4,67.0 C1088.8,64.0 1096.0,61.8 1103.5,60.1 C1111.1,58.4 1118.7,57.4 1126.7,57.0 C1134.6,56.6 1143.1,56.8 1151.2,57.7 C1159.3,58.5 1167.8,59.9 1175.5,62.3" fill="none" stroke="#242424" stroke-width="11.6" stroke-linecap="butt"/>
<path d="M1097.4,72.2 C1105.8,70.1 1114.8,68.8 1123.4,68.3 C1132.0,67.8 1141.0,68.1 1149.1,69.3 C1157.3,70.6 1165.3,72.5 1172.3,75.8 C1179.4,79.1 1185.7,83.5 1191.4,89.1 C1197.1,94.8 1202.1,102.0 1206.6,109.6 C1211.2,117.2 1215.3,126.1 1218.8,134.6 C1222.3,143.1 1225.4,152.0 1227.8,160.7 C1230.2,169.4 1231.9,178.1 1233.0,186.9 C1234.0,195.7 1234.2,204.7 1234.0,213.5 C1233.7,222.3 1232.8,231.3 1231.4,239.5 C1230.0,247.8 1228.2,255.8 1225.8,263.3 C1223.4,270.8 1220.5,277.8 1216.9,284.5 C1213.4,291.1 1209.2,297.5 1204.5,303.3 C1199.8,309.1 1194.6,314.6 1188.8,319.4 C1182.9,324.2 1176.7,328.5 1169.3,332.2 C1161.9,335.8 1153.7,339.0 1144.6,341.3 C1135.5,343.6 1124.8,345.4 1114.6,346.3 C1104.5,347.1 1093.3,347.2 1083.5,346.5 C1073.7,345.8 1064.3,344.2 1056.1,342.0 C1047.8,339.8 1040.7,336.8 1034.1,333.1 C1027.5,329.4 1021.9,324.9 1016.5,319.8 C1011.0,314.7 1006.0,308.7 1001.4,302.6 C996.8,296.4 992.5,289.5 988.9,282.8 C985.3,276.0 982.2,268.9 979.8,261.9 C977.4,254.9 975.6,247.8 974.4,240.7 C973.1,233.6 972.4,226.3 972.3,219.1 C972.2,211.9 972.6,204.6 973.6,197.3 C974.6,190.1 976.2,182.9 978.5,175.7 C980.7,168.5 983.5,161.4 987.1,154.3 C990.6,147.2 994.8,140.0 999.7,133.0 C1004.7,126.1 1010.4,119.0 1016.7,112.4 C1022.9,105.8 1030.0,99.3 1037.1,93.6 C1044.2,87.9 1051.8,82.6 1059.2,78.2 C1066.6,73.8 1074.0,70.1 1081.4,67.0 C1088.8,64.0 1096.0,61.8 1103.5,60.1 C1111.1,58.4 1118.7,57.4 1126.7,57.0 C1134.6,56.6 1143.1,56.8 1151.2,57.7 C1159.3,58.5 1167.8,59.9 1175.5,62.3" fill="none" stroke="#4e4e4e" stroke-width="5" transform="translate(-0.9,-0.9)" opacity=".9"/>
<path d="M1097.4,72.2 C1105.8,70.1 1114.8,68.8 1123.4,68.3 C1132.0,67.8 1141.0,68.1 1149.1,69.3 C1157.3,70.6 1165.3,72.5 1172.3,75.8 C1179.4,79.1 1185.7,83.5 1191.4,89.1 C1197.1,94.8 1202.1,102.0 1206.6,109.6 C1211.2,117.2 1215.3,126.1 1218.8,134.6 C1222.3,143.1 1225.4,152.0 1227.8,160.7 C1230.2,169.4 1231.9,178.1 1233.0,186.9 C1234.0,195.7 1234.2,204.7 1234.0,213.5 C1233.7,222.3 1232.8,231.3 1231.4,239.5 C1230.0,247.8 1228.2,255.8 1225.8,263.3 C1223.4,270.8 1220.5,277.8 1216.9,284.5 C1213.4,291.1 1209.2,297.5 1204.5,303.3 C1199.8,309.1 1194.6,314.6 1188.8,319.4 C1182.9,324.2 1176.7,328.5 1169.3,332.2 C1161.9,335.8 1153.7,339.0 1144.6,341.3 C1135.5,343.6 1124.8,345.4 1114.6,346.3 C1104.5,347.1 1093.3,347.2 1083.5,346.5 C1073.7,345.8 1064.3,344.2 1056.1,342.0 C1047.8,339.8 1040.7,336.8 1034.1,333.1 C1027.5,329.4 1021.9,324.9 1016.5,319.8 C1011.0,314.7 1006.0,308.7 1001.4,302.6 C996.8,296.4 992.5,289.5 988.9,282.8 C985.3,276.0 982.2,268.9 979.8,261.9 C977.4,254.9 975.6,247.8 974.4,240.7 C973.1,233.6 972.4,226.3 972.3,219.1 C972.2,211.9 972.6,204.6 973.6,197.3 C974.6,190.1 976.2,182.9 978.5,175.7 C980.7,168.5 983.5,161.4 987.1,154.3 C990.6,147.2 994.8,140.0 999.7,133.0 C1004.7,126.1 1010.4,119.0 1016.7,112.4 C1022.9,105.8 1030.0,99.3 1037.1,93.6 C1044.2,87.9 1051.8,82.6 1059.2,78.2 C1066.6,73.8 1074.0,70.1 1081.4,67.0 C1088.8,64.0 1096.0,61.8 1103.5,60.1 C1111.1,58.4 1118.7,57.4 1126.7,57.0 C1134.6,56.6 1143.1,56.8 1151.2,57.7 C1159.3,58.5 1167.8,59.9 1175.5,62.3" fill="none" stroke="#7c7c7c" stroke-width="1.3" transform="translate(-1.2,-1.2)" opacity=".75"/>
<path d="M1103.5,84.6 C1110.1,83.6 1117.6,83.3 1124.7,83.7 C1131.9,84.1 1139.5,85.1 1146.5,87.1 C1153.5,89.1 1160.3,91.8 1166.6,95.9 C1173.0,99.9 1179.0,105.3 1184.6,111.4 C1190.3,117.6 1195.7,125.2 1200.5,132.9 C1205.3,140.5 1209.8,149.0 1213.3,157.6 C1216.8,166.1 1219.6,175.0 1221.5,183.9 C1223.3,192.8 1224.3,202.2 1224.4,211.0 C1224.5,219.9 1223.7,228.8 1222.0,237.0 C1220.4,245.1 1217.8,252.8 1214.5,260.0 C1211.2,267.3 1206.8,274.1 1202.3,280.5 C1197.9,287.0 1192.5,293.2 1187.5,298.8 C1182.6,304.3 1177.6,309.5 1172.8,313.9 C1168.1,318.4 1163.8,322.1 1159.1,325.4 C1154.5,328.6 1150.1,331.2 1144.9,333.3 C1139.7,335.4 1134.2,337.0 1127.8,337.9 C1121.3,338.9 1114.0,339.4 1106.2,339.1 C1098.4,338.9 1089.4,338.1 1080.9,336.5 C1072.5,334.9 1063.4,332.6 1055.3,329.4 C1047.3,326.3 1039.5,322.3 1032.7,317.6 C1025.9,313.0 1019.9,307.4 1014.5,301.5 C1009.2,295.6 1004.7,289.0 1000.9,282.4 C997.1,275.8 994.0,268.8 991.6,261.9 C989.1,254.9 987.3,247.8 986.1,240.7 C984.8,233.5 984.1,226.3 984.0,219.1 C983.9,211.8 984.3,204.5 985.4,197.2 C986.5,190.0 988.2,182.8 990.6,175.6 C992.9,168.4 996.0,161.3 999.7,154.2 C1003.4,147.1 1007.6,140.0 1012.6,133.2 C1017.5,126.3 1023.1,119.4 1029.2,113.0 C1035.4,106.7 1042.3,100.4 1049.5,95.1 C1056.7,89.8 1064.5,84.9 1072.5,81.1 C1080.5,77.3 1088.9,74.3 1097.4,72.2 C1105.8,70.1 1114.8,68.8 1123.4,68.3 C1132.0,67.8 1141.0,68.1 1149.1,69.3 C1157.3,70.6 1165.3,72.5 1172.3,75.8" fill="none" stroke="#242424" stroke-width="11.6" stroke-linecap="butt"/>
<path d="M1103.5,84.6 C1110.1,83.6 1117.6,83.3 1124.7,83.7 C1131.9,84.1 1139.5,85.1 1146.5,87.1 C1153.5,89.1 1160.3,91.8 1166.6,95.9 C1173.0,99.9 1179.0,105.3 1184.6,111.4 C1190.3,117.6 1195.7,125.2 1200.5,132.9 C1205.3,140.5 1209.8,149.0 1213.3,157.6 C1216.8,166.1 1219.6,175.0 1221.5,183.9 C1223.3,192.8 1224.3,202.2 1224.4,211.0 C1224.5,219.9 1223.7,228.8 1222.0,237.0 C1220.4,245.1 1217.8,252.8 1214.5,260.0 C1211.2,267.3 1206.8,274.1 1202.3,280.5 C1197.9,287.0 1192.5,293.2 1187.5,298.8 C1182.6,304.3 1177.6,309.5 1172.8,313.9 C1168.1,318.4 1163.8,322.1 1159.1,325.4 C1154.5,328.6 1150.1,331.2 1144.9,333.3 C1139.7,335.4 1134.2,337.0 1127.8,337.9 C1121.3,338.9 1114.0,339.4 1106.2,339.1 C1098.4,338.9 1089.4,338.1 1080.9,336.5 C1072.5,334.9 1063.4,332.6 1055.3,329.4 C1047.3,326.3 1039.5,322.3 1032.7,317.6 C1025.9,313.0 1019.9,307.4 1014.5,301.5 C1009.2,295.6 1004.7,289.0 1000.9,282.4 C997.1,275.8 994.0,268.8 991.6,261.9 C989.1,254.9 987.3,247.8 986.1,240.7 C984.8,233.5 984.1,226.3 984.0,219.1 C983.9,211.8 984.3,204.5 985.4,197.2 C986.5,190.0 988.2,182.8 990.6,175.6 C992.9,168.4 996.0,161.3 999.7,154.2 C1003.4,147.1 1007.6,140.0 1012.6,133.2 C1017.5,126.3 1023.1,119.4 1029.2,113.0 C1035.4,106.7 1042.3,100.4 1049.5,95.1 C1056.7,89.8 1064.5,84.9 1072.5,81.1 C1080.5,77.3 1088.9,74.3 1097.4,72.2 C1105.8,70.1 1114.8,68.8 1123.4,68.3 C1132.0,67.8 1141.0,68.1 1149.1,69.3 C1157.3,70.6 1165.3,72.5 1172.3,75.8" fill="none" stroke="#4e4e4e" stroke-width="5" transform="translate(-0.9,-0.9)" opacity=".9"/>
<path d="M1103.5,84.6 C1110.1,83.6 1117.6,83.3 1124.7,83.7 C1131.9,84.1 1139.5,85.1 1146.5,87.1 C1153.5,89.1 1160.3,91.8 1166.6,95.9 C1173.0,99.9 1179.0,105.3 1184.6,111.4 C1190.3,117.6 1195.7,125.2 1200.5,132.9 C1205.3,140.5 1209.8,149.0 1213.3,157.6 C1216.8,166.1 1219.6,175.0 1221.5,183.9 C1223.3,192.8 1224.3,202.2 1224.4,211.0 C1224.5,219.9 1223.7,228.8 1222.0,237.0 C1220.4,245.1 1217.8,252.8 1214.5,260.0 C1211.2,267.3 1206.8,274.1 1202.3,280.5 C1197.9,287.0 1192.5,293.2 1187.5,298.8 C1182.6,304.3 1177.6,309.5 1172.8,313.9 C1168.1,318.4 1163.8,322.1 1159.1,325.4 C1154.5,328.6 1150.1,331.2 1144.9,333.3 C1139.7,335.4 1134.2,337.0 1127.8,337.9 C1121.3,338.9 1114.0,339.4 1106.2,339.1 C1098.4,338.9 1089.4,338.1 1080.9,336.5 C1072.5,334.9 1063.4,332.6 1055.3,329.4 C1047.3,326.3 1039.5,322.3 1032.7,317.6 C1025.9,313.0 1019.9,307.4 1014.5,301.5 C1009.2,295.6 1004.7,289.0 1000.9,282.4 C997.1,275.8 994.0,268.8 991.6,261.9 C989.1,254.9 987.3,247.8 986.1,240.7 C984.8,233.5 984.1,226.3 984.0,219.1 C983.9,211.8 984.3,204.5 985.4,197.2 C986.5,190.0 988.2,182.8 990.6,175.6 C992.9,168.4 996.0,161.3 999.7,154.2 C1003.4,147.1 1007.6,140.0 1012.6,133.2 C1017.5,126.3 1023.1,119.4 1029.2,113.0 C1035.4,106.7 1042.3,100.4 1049.5,95.1 C1056.7,89.8 1064.5,84.9 1072.5,81.1 C1080.5,77.3 1088.9,74.3 1097.4,72.2 C1105.8,70.1 1114.8,68.8 1123.4,68.3 C1132.0,67.8 1141.0,68.1 1149.1,69.3 C1157.3,70.6 1165.3,72.5 1172.3,75.8" fill="none" stroke="#7c7c7c" stroke-width="1.3" transform="translate(-1.2,-1.2)" opacity=".75"/>
<path d="M1040.0,37.0 C1045.3,37.3 1061.8,38.2 1071.8,38.9 C1081.7,39.6 1091.1,40.3 1099.5,41.2 C1107.9,42.0 1115.1,43.0 1122.1,44.0 C1129.1,44.9 1135.1,46.0 1141.5,47.0 C1147.9,48.0 1154.1,48.9 1160.5,50.1 C1166.9,51.2 1173.5,52.2 1180.1,54.0 C1186.7,55.8 1193.4,57.7 1200.0,60.6 C1206.5,63.6 1213.2,67.2 1219.4,71.7 C1225.6,76.2 1231.8,81.7 1237.2,87.5 C1242.7,93.3 1247.8,100.0 1252.1,106.5 C1256.5,113.0 1260.1,120.0 1263.3,126.6 C1266.4,133.2 1268.8,139.9 1270.9,146.2 C1272.9,152.6 1274.4,158.7 1275.7,164.8 C1277.0,170.9 1277.9,176.8 1278.5,182.9 C1279.2,189.1 1279.6,195.3 1279.9,201.7 C1280.1,208.1 1280.1,214.7 1279.8,221.2 C1279.6,227.8 1279.2,234.4 1278.5,241.0 C1277.8,247.6 1276.9,254.2 1275.5,260.9 C1274.0,267.6 1272.4,274.4 1269.8,281.2 C1267.2,288.1 1264.1,295.1 1259.9,302.0 C1255.7,308.9 1250.6,315.9 1244.7,322.6 C1238.8,329.2 1231.7,336.0 1224.4,341.9 C1217.2,347.9 1209.0,353.7 1201.2,358.3 C1193.4,363.0 1185.3,367.0 1177.6,369.8 C1170.0,372.7 1162.5,374.6 1155.3,375.3 C1148.0,376.0 1140.9,375.5 1134.0,373.9 C1127.0,372.4 1120.1,369.5 1113.5,366.0 C1106.9,362.5 1100.4,357.7 1094.5,352.9 C1088.5,348.1 1083.0,342.6 1077.8,337.1 C1072.6,331.7 1067.9,326.1 1063.5,320.2 C1059.0,314.4 1054.9,308.4 1051.1,302.1 C1047.4,295.8 1043.9,289.2 1041.0,282.5 C1038.1,275.8 1035.6,268.9 1033.6,261.9 C1031.6,254.9 1030.1,247.8 1029.0,240.6 C1028.0,233.5 1027.4,226.2 1027.2,218.9 C1027.0,211.6 1027.3,204.2 1028.0,196.9 C1028.7,189.6 1029.8,182.3 1031.3,175.2 C1032.8,168.0 1034.7,160.9 1037.1,154.0 C1039.5,147.0 1042.3,140.1 1045.5,133.6 C1048.7,127.1 1052.4,120.7 1056.4,115.1 C1060.3,109.5 1064.6,104.3 1069.3,100.1 C1074.1,95.9 1079.1,92.5 1084.8,89.9 C1090.5,87.3 1096.8,85.6 1103.5,84.6 C1110.1,83.6 1117.6,83.3 1124.7,83.7 C1131.9,84.1 1139.5,85.1 1146.5,87.1 C1153.5,89.1 1160.3,91.8 1166.6,95.9" fill="none" stroke="#242424" stroke-width="11.6" stroke-linecap="butt"/>
<path d="M1040.0,37.0 C1045.3,37.3 1061.8,38.2 1071.8,38.9 C1081.7,39.6 1091.1,40.3 1099.5,41.2 C1107.9,42.0 1115.1,43.0 1122.1,44.0 C1129.1,44.9 1135.1,46.0 1141.5,47.0 C1147.9,48.0 1154.1,48.9 1160.5,50.1 C1166.9,51.2 1173.5,52.2 1180.1,54.0 C1186.7,55.8 1193.4,57.7 1200.0,60.6 C1206.5,63.6 1213.2,67.2 1219.4,71.7 C1225.6,76.2 1231.8,81.7 1237.2,87.5 C1242.7,93.3 1247.8,100.0 1252.1,106.5 C1256.5,113.0 1260.1,120.0 1263.3,126.6 C1266.4,133.2 1268.8,139.9 1270.9,146.2 C1272.9,152.6 1274.4,158.7 1275.7,164.8 C1277.0,170.9 1277.9,176.8 1278.5,182.9 C1279.2,189.1 1279.6,195.3 1279.9,201.7 C1280.1,208.1 1280.1,214.7 1279.8,221.2 C1279.6,227.8 1279.2,234.4 1278.5,241.0 C1277.8,247.6 1276.9,254.2 1275.5,260.9 C1274.0,267.6 1272.4,274.4 1269.8,281.2 C1267.2,288.1 1264.1,295.1 1259.9,302.0 C1255.7,308.9 1250.6,315.9 1244.7,322.6 C1238.8,329.2 1231.7,336.0 1224.4,341.9 C1217.2,347.9 1209.0,353.7 1201.2,358.3 C1193.4,363.0 1185.3,367.0 1177.6,369.8 C1170.0,372.7 1162.5,374.6 1155.3,375.3 C1148.0,376.0 1140.9,375.5 1134.0,373.9 C1127.0,372.4 1120.1,369.5 1113.5,366.0 C1106.9,362.5 1100.4,357.7 1094.5,352.9 C1088.5,348.1 1083.0,342.6 1077.8,337.1 C1072.6,331.7 1067.9,326.1 1063.5,320.2 C1059.0,314.4 1054.9,308.4 1051.1,302.1 C1047.4,295.8 1043.9,289.2 1041.0,282.5 C1038.1,275.8 1035.6,268.9 1033.6,261.9 C1031.6,254.9 1030.1,247.8 1029.0,240.6 C1028.0,233.5 1027.4,226.2 1027.2,218.9 C1027.0,211.6 1027.3,204.2 1028.0,196.9 C1028.7,189.6 1029.8,182.3 1031.3,175.2 C1032.8,168.0 1034.7,160.9 1037.1,154.0 C1039.5,147.0 1042.3,140.1 1045.5,133.6 C1048.7,127.1 1052.4,120.7 1056.4,115.1 C1060.3,109.5 1064.6,104.3 1069.3,100.1 C1074.1,95.9 1079.1,92.5 1084.8,89.9 C1090.5,87.3 1096.8,85.6 1103.5,84.6 C1110.1,83.6 1117.6,83.3 1124.7,83.7 C1131.9,84.1 1139.5,85.1 1146.5,87.1 C1153.5,89.1 1160.3,91.8 1166.6,95.9" fill="none" stroke="#4e4e4e" stroke-width="5" transform="translate(-0.9,-0.9)" opacity=".9"/>
<path d="M1040.0,37.0 C1045.3,37.3 1061.8,38.2 1071.8,38.9 C1081.7,39.6 1091.1,40.3 1099.5,41.2 C1107.9,42.0 1115.1,43.0 1122.1,44.0 C1129.1,44.9 1135.1,46.0 1141.5,47.0 C1147.9,48.0 1154.1,48.9 1160.5,50.1 C1166.9,51.2 1173.5,52.2 1180.1,54.0 C1186.7,55.8 1193.4,57.7 1200.0,60.6 C1206.5,63.6 1213.2,67.2 1219.4,71.7 C1225.6,76.2 1231.8,81.7 1237.2,87.5 C1242.7,93.3 1247.8,100.0 1252.1,106.5 C1256.5,113.0 1260.1,120.0 1263.3,126.6 C1266.4,133.2 1268.8,139.9 1270.9,146.2 C1272.9,152.6 1274.4,158.7 1275.7,164.8 C1277.0,170.9 1277.9,176.8 1278.5,182.9 C1279.2,189.1 1279.6,195.3 1279.9,201.7 C1280.1,208.1 1280.1,214.7 1279.8,221.2 C1279.6,227.8 1279.2,234.4 1278.5,241.0 C1277.8,247.6 1276.9,254.2 1275.5,260.9 C1274.0,267.6 1272.4,274.4 1269.8,281.2 C1267.2,288.1 1264.1,295.1 1259.9,302.0 C1255.7,308.9 1250.6,315.9 1244.7,322.6 C1238.8,329.2 1231.7,336.0 1224.4,341.9 C1217.2,347.9 1209.0,353.7 1201.2,358.3 C1193.4,363.0 1185.3,367.0 1177.6,369.8 C1170.0,372.7 1162.5,374.6 1155.3,375.3 C1148.0,376.0 1140.9,375.5 1134.0,373.9 C1127.0,372.4 1120.1,369.5 1113.5,366.0 C1106.9,362.5 1100.4,357.7 1094.5,352.9 C1088.5,348.1 1083.0,342.6 1077.8,337.1 C1072.6,331.7 1067.9,326.1 1063.5,320.2 C1059.0,314.4 1054.9,308.4 1051.1,302.1 C1047.4,295.8 1043.9,289.2 1041.0,282.5 C1038.1,275.8 1035.6,268.9 1033.6,261.9 C1031.6,254.9 1030.1,247.8 1029.0,240.6 C1028.0,233.5 1027.4,226.2 1027.2,218.9 C1027.0,211.6 1027.3,204.2 1028.0,196.9 C1028.7,189.6 1029.8,182.3 1031.3,175.2 C1032.8,168.0 1034.7,160.9 1037.1,154.0 C1039.5,147.0 1042.3,140.1 1045.5,133.6 C1048.7,127.1 1052.4,120.7 1056.4,115.1 C1060.3,109.5 1064.6,104.3 1069.3,100.1 C1074.1,95.9 1079.1,92.5 1084.8,89.9 C1090.5,87.3 1096.8,85.6 1103.5,84.6 C1110.1,83.6 1117.6,83.3 1124.7,83.7 C1131.9,84.1 1139.5,85.1 1146.5,87.1 C1153.5,89.1 1160.3,91.8 1166.6,95.9" fill="none" stroke="#7c7c7c" stroke-width="1.3" transform="translate(-1.2,-1.2)" opacity=".75"/>
<text transform="translate(1012,186) rotate(-27)" font-size="34" font-weight="bold" fill="#b0b7cd" opacity=".37" textLength="226" lengthAdjust="spacingAndGlyphs">newbiely.com</text>
<rect x="822" y="24.8" width="142" height="17.9" rx="4.5" fill="url(#rod)"/>
<rect x="822" y="24.8" width="8" height="17.9" rx="4" fill="#c09a62" opacity=".85"/>
<path d="M1025,23.5 L1062,30.5 L1108,34.6 L1108,45.5 L1062,46.5 L1025,48 Z" fill="url(#tap)"/>
<path d="M1028,29.5 L1062,35.5 L1106,38.6" stroke="#505050" stroke-width="3" fill="none"/>
<rect x="960.4" y="21.2" width="67" height="27.8" rx="2.5" fill="url(#shr)"/>
<text class="mono" transform="translate(1026,30.5) rotate(180)" font-size="12" fill="#a8a8a8" opacity=".75" textLength="56" lengthAdjust="spacingAndGlyphs">DS18B20</text>
<rect x="1079.5" y="137" width="101.8" height="114.3" rx="5.5" fill="#0b0b0b"/>
<text class="mono" transform="translate(1156.8,138.6) rotate(180)" font-size="10" fill="#e8e8e8" textLength="52.4" lengthAdjust="spacingAndGlyphs">DAT VCC GND</text>
<text class="mono" transform="translate(1167.8,149) rotate(90)" font-size="9.6" fill="#e8e8e8" textLength="78.6" lengthAdjust="spacingAndGlyphs">PlugableTerminal</text>
<rect x="1101" y="150" width="57.8" height="38.8" fill="url(#gtb)"/><rect x="1103.5" y="150" width="52" height="5" fill="#3e9a30"/><rect x="1156" y="157" width="4.5" height="8" fill="#4aaa3a"/>
<circle cx="1113.8" cy="168.8" r="7" fill="#3b8f2f"/><circle cx="1113.8" cy="168.8" r="5.4" fill="#c9c9c9"/><rect x="1112.7" y="163.6" width="2.2" height="10.4" fill="#8a8a8a" transform="rotate(15 1113.8 168.8)"/>
<circle cx="1131.3" cy="168.8" r="7" fill="#3b8f2f"/><circle cx="1131.3" cy="168.8" r="5.4" fill="#c9c9c9"/><rect x="1130.2" y="163.6" width="2.2" height="10.4" fill="#8a8a8a" transform="rotate(15 1131.3 168.8)"/>
<circle cx="1148.8" cy="168.8" r="7" fill="#3b8f2f"/><circle cx="1148.8" cy="168.8" r="5.4" fill="#c9c9c9"/><rect x="1147.7" y="163.6" width="2.2" height="10.4" fill="#8a8a8a" transform="rotate(15 1148.8 168.8)"/>
<path d="M1130.5,189 V222 M1154,189 V226 L1149,234" stroke="#262626" stroke-width="1" fill="none"/>
<rect x="1107.5" y="204" width="19" height="7" rx="1" fill="#d8d8d8"/><rect x="1112.5" y="204.6" width="9" height="5.8" fill="#b98a5a"/>
<rect x="1133.0" y="204" width="19" height="7" rx="1" fill="#d8d8d8"/><rect x="1138.0" y="204.6" width="9" height="5.8" fill="#6a5a4a"/>
<text class="mono" transform="translate(1115.0,219.2) rotate(90)" font-size="9.6" fill="#e8e8e8" textLength="14.8" lengthAdjust="spacingAndGlyphs">GND</text>
<text class="mono" transform="translate(1127.6000000000001,219.2) rotate(90)" font-size="9.6" fill="#e8e8e8" textLength="14.8" lengthAdjust="spacingAndGlyphs">VCC</text>
<text class="mono" transform="translate(1140.0,219.2) rotate(90)" font-size="9.6" fill="#e8e8e8" textLength="14.8" lengthAdjust="spacingAndGlyphs">DAT</text>
<circle cx="1092.5" cy="238" r="10.4" fill="#f4f4f4"/><circle cx="1166" cy="238" r="10.4" fill="#f4f4f4"/>
<rect x="1116.2" y="244" width="2.6" height="35" fill="#8c8c8c"/><rect x="1117.3" y="244" width="1" height="35" fill="#c4c4c4"/>
<path d="M1112.3,238 a5.2,5.2 0 0 1 10.4,0 v6.5 h-10.4z" fill="#3a3a3a"/>
<rect x="1129.3" y="244" width="2.6" height="35" fill="#8c8c8c"/><rect x="1130.3999999999999" y="244" width="1" height="35" fill="#c4c4c4"/>
<path d="M1125.3999999999999,238 a5.2,5.2 0 0 1 10.4,0 v6.5 h-10.4z" fill="#3a3a3a"/>
<rect x="1142.0" y="244" width="2.6" height="35" fill="#8c8c8c"/><rect x="1143.1" y="244" width="1" height="35" fill="#c4c4c4"/>
<path d="M1138.1,238 a5.2,5.2 0 0 1 10.4,0 v6.5 h-10.4z" fill="#3a3a3a"/>
<path d="M1073.8,304 h4 a10.5,13 0 0 1 0,26 h-4z" fill="#a2a2a2"/><path d="M1086.5,297 h21.5 v17 a16.5,16.5 0 0 1 -16.5,16.5 h-5z" fill="#a2a2a2"/>
<text x="1110.6" y="313" font-size="22" font-weight="bold" fill="#a2a2a2" textLength="39.5" lengthAdjust="spacingAndGlyphs">DIY</text>
<rect x="1110.6" y="315.6" width="39.4" height="14.9" fill="#a2a2a2"/><text x="1130.3" y="327.4" font-size="12.4" fill="#fff" text-anchor="middle" textLength="31" lengthAdjust="spacingAndGlyphs">ables</text>
</g>
<g id="adapter">
<rect x="677" y="400" width="219.3" height="198" rx="11" fill="#0c1a4d"/>
<circle cx="704.5" cy="427" r="20.4" fill="#fff"/><circle cx="704.5" cy="570" r="20.4" fill="#fff"/>
<text x="732.2" y="426.8" font-size="17" font-style="italic" fill="#fff" textLength="142.4" lengthAdjust="spacingAndGlyphs">Plugable Terminal</text>
<rect x="682.1" y="463.1" width="28.6" height="72.8" rx="3.2" fill="#0c1a4d" stroke="#cfd3e4" stroke-width=".9"/>
<rect x="684.8" y="465" width="23" height="21.6" rx="5.5" fill="#373233"/>
<rect x="684.8" y="488" width="23" height="21.6" rx="5.5" fill="#373233"/>
<rect x="684.8" y="511.6" width="23" height="21.6" rx="5.5" fill="#373233"/>
<g class="serif" font-size="14" fill="#fff"><text x="712.8" y="480" textLength="31" lengthAdjust="spacingAndGlyphs">GND</text><text x="713.2" y="503.4" textLength="29" lengthAdjust="spacingAndGlyphs">VCC</text><text x="713" y="526.7" textLength="27.6" lengthAdjust="spacingAndGlyphs">DAT</text></g>
<rect x="757.9" y="456.8" width="12.4" height="34" fill="#d9d9d9"/><rect x="757.9" y="465.6" width="12.4" height="16.1" fill="#e0a510"/>
<rect x="756" y="507.5" width="12.2" height="34.4" fill="#d2d2d2"/><rect x="756" y="516.6" width="12.2" height="16.2" fill="#050505"/>
<text class="serif" x="772" y="527.3" font-size="9" fill="#fff">472 <tspan font-weight="bold">Ω</tspan></text>
<rect x="803" y="445.5" width="64" height="111.5" fill="#0c1a4d" stroke="#fff" stroke-width="1"/>
<rect x="806" y="448.8" width="57.8" height="105" fill="url(#tb)"/>
<rect x="821.6" y="454.3" width="28.6" height="28.4" fill="#d58378" stroke="#b8645a" stroke-width=".8"/>
<circle cx="835.9" cy="468.5" r="13.4" fill="url(#scr)" stroke="#bf6d63" stroke-width=".9"/>
<g transform="rotate(-45 835.9 468.5)"><rect x="822.6" y="465.1" width="26.6" height="6.8" fill="#c9796e"/><rect x="822.6" y="466.0" width="26.6" height="5" fill="#f4cbc5"/></g>
<rect x="821.6" y="486.6" width="28.6" height="28.4" fill="#d58378" stroke="#b8645a" stroke-width=".8"/>
<circle cx="835.9" cy="500.8" r="13.4" fill="url(#scr)" stroke="#bf6d63" stroke-width=".9"/>
<g transform="rotate(-78 835.9 500.8)"><rect x="822.6" y="497.40000000000003" width="26.6" height="6.8" fill="#c9796e"/><rect x="822.6" y="498.3" width="26.6" height="5" fill="#f4cbc5"/></g>
<rect x="821.6" y="518.8" width="28.6" height="28.4" fill="#d58378" stroke="#b8645a" stroke-width=".8"/>
<circle cx="835.9" cy="533.0" r="13.4" fill="url(#scr)" stroke="#bf6d63" stroke-width=".9"/>
<g transform="rotate(42 835.9 533.0)"><rect x="822.6" y="529.6" width="26.6" height="6.8" fill="#c9796e"/><rect x="822.6" y="530.5" width="26.6" height="5" fill="#f4cbc5"/></g>
<g class="serif" font-size="13.4" fill="#fff" text-anchor="middle"><text transform="translate(885,466) rotate(-90)">GND</text><text transform="translate(885,500.5) rotate(-90)">VCC</text><text transform="translate(885,534) rotate(-90)">DAT</text></g>
<text x="744.4" y="580.6" font-size="15" font-style="italic" fill="#fff" textLength="66.2" lengthAdjust="spacingAndGlyphs">diyables.io</text>
<rect x="814" y="563.8" width="48" height="24.2" fill="#fff"/>
<path d="M819,570 h3.5 a6.8,6.8 0 0 1 0,13.6 h-3.5z" fill="#111"/><path d="M826.5,567.5 h10.5 v9.5 a7.6,7.6 0 0 1 -7.6,7.6 h-2.9 z" fill="#111"/>
<text x="838.6" y="576.6" font-size="10.2" font-weight="bold" fill="#111" textLength="20.5" lengthAdjust="spacingAndGlyphs">DIY</text>
<rect x="838.6" y="578" width="20.6" height="7.6" fill="#222"/><text x="848.9" y="584.2" font-size="6.4" font-weight="bold" fill="#fff" text-anchor="middle">ables</text>
<rect x="653.7" y="471.8" width="44.2" height="8" rx="1.2" fill="url(#pin)" opacity=".95"/>
<ellipse cx="694" cy="475.8" rx="4" ry="2.6" fill="#fbc6c4" opacity=".8"/>
<rect x="653.7" y="495" width="44.2" height="8" rx="1.2" fill="url(#pin)" opacity=".95"/>
<ellipse cx="694" cy="499" rx="4" ry="2.6" fill="#fbc6c4" opacity=".8"/>
<rect x="653.7" y="518.3" width="44.2" height="8" rx="1.2" fill="url(#pin)" opacity=".95"/>
<ellipse cx="694" cy="522.3" rx="4" ry="2.6" fill="#fbc6c4" opacity=".8"/>
</g>
<g id="wires">
<path d="M313.0,369.0 C317.5,363.8 328.8,349.0 340.0,338.0 C351.2,327.0 368.3,311.2 380.0,303.0 C391.7,294.8 400.8,292.1 410.0,289.0 C419.2,285.9 427.0,284.6 435.0,284.5 C443.0,284.4 451.0,285.8 458.0,288.5 C465.0,291.2 471.2,295.2 477.0,300.5 C482.8,305.8 488.5,314.1 492.5,320.0 C496.5,325.9 498.2,330.7 501.0,336.0 C503.8,341.3 506.8,346.7 509.5,352.0 C512.2,357.3 514.9,362.7 517.5,368.0 C520.1,373.3 522.7,378.7 525.0,384.0 C527.3,389.3 529.2,394.7 531.5,400.0 C533.8,405.3 536.1,410.7 538.5,416.0 C540.9,421.3 543.5,426.7 546.0,432.0 C548.5,437.3 550.9,442.7 553.5,448.0 C556.1,453.3 558.6,458.7 561.5,464.0 C564.4,469.3 567.8,475.0 571.0,480.0 C574.2,485.0 577.4,489.5 581.0,494.0 C584.6,498.5 588.3,503.0 592.5,507.0 C596.7,511.0 601.6,515.3 606.0,518.0 C610.4,520.7 614.8,521.9 619.0,523.0 C623.2,524.1 626.6,524.5 631.0,524.6 C635.4,524.7 643.2,523.6 645.6,523.4" fill="none" stroke="#d2d200" stroke-width="9.4" stroke-linecap="round"/><path d="M313.0,369.0 C317.5,363.8 328.8,349.0 340.0,338.0 C351.2,327.0 368.3,311.2 380.0,303.0 C391.7,294.8 400.8,292.1 410.0,289.0 C419.2,285.9 427.0,284.6 435.0,284.5 C443.0,284.4 451.0,285.8 458.0,288.5 C465.0,291.2 471.2,295.2 477.0,300.5 C482.8,305.8 488.5,314.1 492.5,320.0 C496.5,325.9 498.2,330.7 501.0,336.0 C503.8,341.3 506.8,346.7 509.5,352.0 C512.2,357.3 514.9,362.7 517.5,368.0 C520.1,373.3 522.7,378.7 525.0,384.0 C527.3,389.3 529.2,394.7 531.5,400.0 C533.8,405.3 536.1,410.7 538.5,416.0 C540.9,421.3 543.5,426.7 546.0,432.0 C548.5,437.3 550.9,442.7 553.5,448.0 C556.1,453.3 558.6,458.7 561.5,464.0 C564.4,469.3 567.8,475.0 571.0,480.0 C574.2,485.0 577.4,489.5 581.0,494.0 C584.6,498.5 588.3,503.0 592.5,507.0 C596.7,511.0 601.6,515.3 606.0,518.0 C610.4,520.7 614.8,521.9 619.0,523.0 C623.2,524.1 626.6,524.5 631.0,524.6 C635.4,524.7 643.2,523.6 645.6,523.4" fill="none" stroke="#ffff14" stroke-width="5.800000000000001" stroke-linecap="round"/>
<path d="M410.0,369.0 C410.4,367.0 411.2,360.8 412.6,357.0 C414.0,353.2 415.9,349.5 418.5,346.5 C421.1,343.5 424.6,340.9 428.0,339.0 C431.4,337.1 435.3,336.1 439.0,335.3 C442.7,334.5 446.3,334.3 450.0,334.4 C453.7,334.5 457.3,335.0 461.0,336.0 C464.7,337.0 468.2,338.4 472.0,340.2 C475.8,342.0 479.7,344.3 483.5,347.0 C487.3,349.7 491.0,352.7 495.0,356.5 C499.0,360.3 503.3,365.7 507.5,370.0 C511.7,374.3 515.8,378.5 520.0,382.5 C524.2,386.5 528.3,390.0 532.5,393.8 C536.7,397.6 540.9,401.6 545.0,405.5 C549.1,409.4 553.0,413.5 557.0,417.5 C561.0,421.5 564.7,425.5 569.0,429.5 C573.3,433.5 577.8,437.5 583.0,441.5 C588.2,445.5 594.0,449.8 600.0,453.5 C606.0,457.2 613.0,461.1 618.8,464.0 C624.6,466.9 630.5,469.0 635.0,470.8 C639.5,472.6 643.8,474.2 645.6,474.9" fill="none" stroke="#000000" stroke-width="9.4" stroke-linecap="round"/><path d="M410.0,369.0 C410.4,367.0 411.2,360.8 412.6,357.0 C414.0,353.2 415.9,349.5 418.5,346.5 C421.1,343.5 424.6,340.9 428.0,339.0 C431.4,337.1 435.3,336.1 439.0,335.3 C442.7,334.5 446.3,334.3 450.0,334.4 C453.7,334.5 457.3,335.0 461.0,336.0 C464.7,337.0 468.2,338.4 472.0,340.2 C475.8,342.0 479.7,344.3 483.5,347.0 C487.3,349.7 491.0,352.7 495.0,356.5 C499.0,360.3 503.3,365.7 507.5,370.0 C511.7,374.3 515.8,378.5 520.0,382.5 C524.2,386.5 528.3,390.0 532.5,393.8 C536.7,397.6 540.9,401.6 545.0,405.5 C549.1,409.4 553.0,413.5 557.0,417.5 C561.0,421.5 564.7,425.5 569.0,429.5 C573.3,433.5 577.8,437.5 583.0,441.5 C588.2,445.5 594.0,449.8 600.0,453.5 C606.0,457.2 613.0,461.1 618.8,464.0 C624.6,466.9 630.5,469.0 635.0,470.8 C639.5,472.6 643.8,474.2 645.6,474.9" fill="none" stroke="#3f3f3f" stroke-width="5.800000000000001" stroke-linecap="round"/>
<path d="M433.8,634.4 C435.1,637.3 438.3,646.4 441.6,652.0 C444.9,657.6 448.8,663.7 453.4,667.8 C458.0,671.9 463.9,676.3 469.2,676.6 C474.4,676.9 480.0,674.6 484.9,669.8 C489.8,665.0 493.8,656.3 498.6,648.0 C503.4,639.7 509.0,628.4 513.6,620.0 C518.2,611.6 522.0,604.9 526.2,597.5 C530.4,590.1 534.3,582.6 538.8,575.5 C543.2,568.4 547.9,561.8 552.9,555.0 C557.9,548.2 563.5,540.5 568.7,534.6 C574.0,528.7 579.2,523.9 584.4,519.7 C589.6,515.5 594.8,512.0 600.0,509.4 C605.2,506.8 610.5,505.4 615.8,503.9 C621.1,502.4 626.6,501.3 631.6,500.5 C636.6,499.7 643.3,499.2 645.6,499.0" fill="none" stroke="#850b0b" stroke-width="9.4" stroke-linecap="round"/><path d="M433.8,634.4 C435.1,637.3 438.3,646.4 441.6,652.0 C444.9,657.6 448.8,663.7 453.4,667.8 C458.0,671.9 463.9,676.3 469.2,676.6 C474.4,676.9 480.0,674.6 484.9,669.8 C489.8,665.0 493.8,656.3 498.6,648.0 C503.4,639.7 509.0,628.4 513.6,620.0 C518.2,611.6 522.0,604.9 526.2,597.5 C530.4,590.1 534.3,582.6 538.8,575.5 C543.2,568.4 547.9,561.8 552.9,555.0 C557.9,548.2 563.5,540.5 568.7,534.6 C574.0,528.7 579.2,523.9 584.4,519.7 C589.6,515.5 594.8,512.0 600.0,509.4 C605.2,506.8 610.5,505.4 615.8,503.9 C621.1,502.4 626.6,501.3 631.6,500.5 C636.6,499.7 643.3,499.2 645.6,499.0" fill="none" stroke="#e0181d" stroke-width="5.800000000000001" stroke-linecap="round"/>
<path d="M868.0,539.3 C869.2,539.9 872.2,541.8 875.0,543.0 C877.8,544.2 878.8,545.5 885.0,546.5 C891.2,547.5 905.0,548.7 912.5,548.8 C920.0,548.9 923.8,548.0 930.0,547.0 C936.2,546.0 940.4,546.1 950.0,542.5 C959.6,538.9 975.0,531.1 987.5,525.5 C1000.0,519.9 1015.4,512.7 1025.0,509.0 C1034.6,505.3 1038.0,504.9 1045.0,503.5 C1052.0,502.1 1063.3,501.0 1067.0,500.5" fill="none" stroke="#d2d200" stroke-width="9.4" stroke-linecap="round"/><path d="M868.0,539.3 C869.2,539.9 872.2,541.8 875.0,543.0 C877.8,544.2 878.8,545.5 885.0,546.5 C891.2,547.5 905.0,548.7 912.5,548.8 C920.0,548.9 923.8,548.0 930.0,547.0 C936.2,546.0 940.4,546.1 950.0,542.5 C959.6,538.9 975.0,531.1 987.5,525.5 C1000.0,519.9 1015.4,512.7 1025.0,509.0 C1034.6,505.3 1038.0,504.9 1045.0,503.5 C1052.0,502.1 1063.3,501.0 1067.0,500.5" fill="none" stroke="#ffff14" stroke-width="5.800000000000001" stroke-linecap="round"/>
<path d="M868.0,462.5 C868.8,461.6 871.0,458.5 873.0,457.0 C875.0,455.5 875.5,454.4 880.0,453.5 C884.5,452.6 892.5,451.1 900.0,451.5 C907.5,451.9 916.7,453.8 925.0,456.0 C933.3,458.2 941.7,461.4 950.0,464.5 C958.3,467.6 966.7,471.3 975.0,474.5 C983.3,477.7 991.7,480.9 1000.0,483.5 C1008.3,486.1 1013.8,487.9 1025.0,490.0 C1036.2,492.1 1060.0,495.0 1067.0,496.0" fill="none" stroke="#000000" stroke-width="9.4" stroke-linecap="round"/><path d="M868.0,462.5 C868.8,461.6 871.0,458.5 873.0,457.0 C875.0,455.5 875.5,454.4 880.0,453.5 C884.5,452.6 892.5,451.1 900.0,451.5 C907.5,451.9 916.7,453.8 925.0,456.0 C933.3,458.2 941.7,461.4 950.0,464.5 C958.3,467.6 966.7,471.3 975.0,474.5 C983.3,477.7 991.7,480.9 1000.0,483.5 C1008.3,486.1 1013.8,487.9 1025.0,490.0 C1036.2,492.1 1060.0,495.0 1067.0,496.0" fill="none" stroke="#3f3f3f" stroke-width="5.800000000000001" stroke-linecap="round"/>
<path d="M868.0,500.8 C870.8,500.0 879.7,497.2 885.0,496.0 C890.3,494.8 893.3,494.6 900.0,493.8 C906.7,493.1 916.7,492.1 925.0,491.5 C933.3,490.9 937.5,490.5 950.0,490.5 C962.5,490.5 986.7,490.7 1000.0,491.3 C1013.3,491.9 1018.8,492.8 1030.0,494.0 C1041.2,495.2 1060.8,497.8 1067.0,498.5" fill="none" stroke="#850b0b" stroke-width="9.4" stroke-linecap="round"/><path d="M868.0,500.8 C870.8,500.0 879.7,497.2 885.0,496.0 C890.3,494.8 893.3,494.6 900.0,493.8 C906.7,493.1 916.7,492.1 925.0,491.5 C933.3,490.9 937.5,490.5 950.0,490.5 C962.5,490.5 986.7,490.7 1000.0,491.3 C1013.3,491.9 1018.8,492.8 1030.0,494.0 C1041.2,495.2 1060.8,497.8 1067.0,498.5" fill="none" stroke="#e0181d" stroke-width="5.800000000000001" stroke-linecap="round"/>
<circle cx="313" cy="369" r="5.4" fill="#a6f228"/><circle cx="313" cy="369" r="7.6" fill="#a6f228" opacity=".35"/>
<circle cx="410" cy="369" r="4.6" fill="#103d14"/>
<circle cx="433.8" cy="634.8" r="4.6" fill="#a8480f"/>
<ellipse cx="645.4" cy="474.9" rx="6.6" ry="6" fill="#86e472" opacity=".7"/><ellipse cx="645.4" cy="474.9" rx="5.3" ry="4.7" fill="#1b5a1e"/>
<ellipse cx="645.4" cy="499.1" rx="6.6" ry="6" fill="#86e472" opacity=".7"/><ellipse cx="645.4" cy="499.1" rx="5.3" ry="4.7" fill="#ad4a16"/>
<ellipse cx="645.6" cy="523.4" rx="6.6" ry="6" fill="#86e472" opacity=".7"/><ellipse cx="645.6" cy="523.4" rx="5.3" ry="4.7" fill="#b2f224"/>
<ellipse cx="868.6" cy="462.6" rx="5.4" ry="5" fill="#5b1f1f" stroke="#fff" stroke-width="1.3" transform="rotate(-35 868.6 462.6)"/>
<ellipse cx="868" cy="500.8" rx="5.4" ry="5" fill="#d81418" stroke="#fff" stroke-width="1.3"/>
<circle cx="868.3" cy="538.9" r="5" fill="#f5a21c" stroke="#fff" stroke-width="1.2"/>
</g>
<g id="probe">
<rect x="1065.5" y="490" width="225" height="19.5" fill="url(#cab)"/>
<path d="M1175.6,487 L1188.6,512 L1206.2,512 L1193.2,487 Z" fill="#fff"/>
<path d="M1175,485.8 L1189.5,513.8 M1192.5,485.8 L1207,513.8" stroke="#4a4a4a" stroke-width="1.4" fill="none"/>
<rect x="1330" y="480.5" width="158" height="39" rx="7" fill="url(#metal)"/>
<path d="M1282,490 C1290,490 1288,480.5 1301,480.5 H1331.5 V519.5 H1301 C1288,519.5 1290,509.5 1282,509.5 Z" fill="#5d5d5d"/>
</g>
<g id="labels">
<text x="672" y="384.6" font-size="31.1" font-weight="bold" fill="#0b0bee" textLength="90.8" lengthAdjust="spacingAndGlyphs">Wiring</text>
<text x="770.6" y="384.6" font-size="31.1" font-weight="bold" fill="#0b0bee" textLength="122.8" lengthAdjust="spacingAndGlyphs">Adapter</text>
<text x="1213.4" y="471.2" font-size="31" font-weight="bold" fill="#0b0bee" textLength="125.6" lengthAdjust="spacingAndGlyphs">DS18B20</text>
<g id="owl">
<path d="M1076.5,549.6 Q1100.5,563 1124.5,549.6 Q1128.5,562 1127,592 H1074.5 Q1073,562 1076.5,549.6 Z" fill="#4fc4ea"/>
<circle cx="1088.3" cy="576.8" r="4.3" fill="#fff"/><circle cx="1112.5" cy="576.8" r="4.3" fill="#fff"/>
<path d="M1100.4,581.3 l2,2.7 l-2,2.7 l-2,-2.7z" fill="#fff"/>
<circle cx="1086.5" cy="575.2" r="12.5" fill="none" stroke="#f4b92f" stroke-width="2.8"/><circle cx="1114.9" cy="575.2" r="12.5" fill="none" stroke="#f4b92f" stroke-width="2.8"/>
<path d="M1065.2,591 H1136.8 Q1139,591 1138.6,593.2 L1133.6,624 Q1133.2,626.2 1131,626.2 H1071 Q1068.8,626.2 1068.4,624 L1063.4,593.2 Q1063,591 1065.2,591 Z" fill="#453f78"/>
<ellipse cx="1100.2" cy="608.8" rx="4.4" ry="3.4" fill="#f4b92f"/>
<text x="1029.4" y="646.4" font-size="19.2" font-weight="bold" fill="#5bc5ea" textLength="140.4" lengthAdjust="spacingAndGlyphs">newbiely.com</text>
</g>
<text transform="translate(371.4,338.6) rotate(-25.5)" font-size="21" font-weight="bold" fill="#d98a55" opacity="0.62" textLength="138" lengthAdjust="spacingAndGlyphs">newbiely.com</text>
<text transform="translate(352,710) rotate(-25.8)" font-size="21" font-weight="bold" fill="#d98a55" opacity="0.62" textLength="138" lengthAdjust="spacingAndGlyphs">newbiely.com</text>
<text transform="translate(1332,537) rotate(-25.5)" font-size="21" font-weight="bold" fill="#e9a57a" opacity="0.5" textLength="138" lengthAdjust="spacingAndGlyphs">newbiely.com</text>
<text transform="translate(282,546) rotate(-25.5)" font-size="22" font-weight="bold" fill="#ffffff" opacity="0.3" textLength="146" lengthAdjust="spacingAndGlyphs">newbiely.com</text>
<text transform="translate(630,615) rotate(-25.5)" font-size="22" font-weight="bold" fill="#b8bcc8" opacity="0.27" textLength="140" lengthAdjust="spacingAndGlyphs">newbiely.com</text>
<clipPath id="wmc"><rect x="567" y="440" width="110" height="120"/></clipPath>
<g clip-path="url(#wmc)"><text transform="translate(497,546) rotate(-25.5)" font-size="22" font-weight="bold" fill="#b8bcc8" opacity="0.24" textLength="140" lengthAdjust="spacingAndGlyphs">newbiely.com</text></g>
</g></svg>
</body></html>
